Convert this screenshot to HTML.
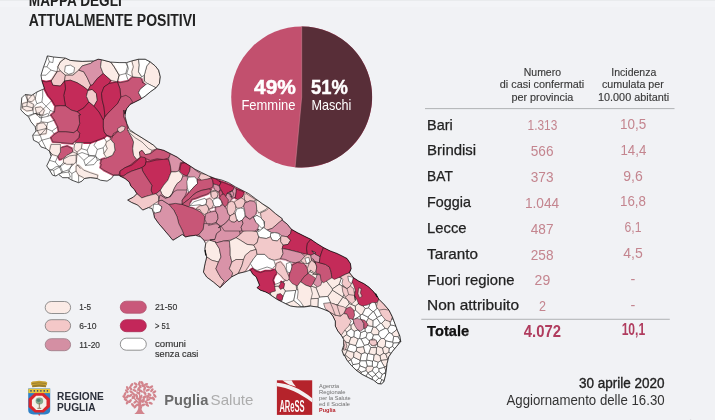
<!DOCTYPE html>
<html lang="it">
<head>
<meta charset="utf-8">
<title>Mappa degli attualmente positivi</title>
<style>
html,body{margin:0;padding:0;background:#f1f2f5;}
body{width:715px;height:420px;overflow:hidden;position:relative;font-family:"Liberation Sans",sans-serif;}
svg{position:absolute;left:0;top:0;display:block;}
text{font-family:"Liberation Sans",sans-serif;}
.b{font-weight:bold;}
.hd{font-size:10.5px;fill:#3a3a3a;text-anchor:middle;stroke:#3a3a3a;stroke-width:0.15px;}
.rl{font-size:14.8px;fill:#222;stroke:#222;stroke-width:0.25px;}
.num{font-size:14.4px;fill:#c4858f;text-anchor:middle;}
.lg{font-size:8.6px;fill:#333;stroke:#333;stroke-width:0.15px;}
</style>
</head>
<body>
<svg width="715" height="420" viewBox="0 0 715 420">
<rect x="0" y="0" width="715" height="420" fill="#f1f2f5"/>
<rect x="0" y="1" width="715" height="6" fill="#f3f4f7"/>
<rect x="0" y="0" width="715" height="1" fill="#e9ebed"/>

<!-- title -->
<text class="b" x="28.8" y="5.7" font-size="15.6" fill="#222" textLength="93" lengthAdjust="spacingAndGlyphs">MAPPA DEGLI</text>
<text class="b" x="28.8" y="25.6" font-size="15.6" fill="#222" textLength="167.2" lengthAdjust="spacingAndGlyphs">ATTUALMENTE POSITIVI</text>

<!-- map -->
<g id="map">
<clipPath id="oc"><polygon points="41.9,81.0 41.0,75.2 43.6,66.8 46.1,60.1 47.3,55.9 53.6,57.0 65.4,58.1 70.4,60.4 82.2,61.4 93.9,60.9 98.1,59.2 101.5,59.7 110.7,62.1 119.1,62.6 126.7,62.6 131.8,60.9 138.5,59.2 145.2,59.2 150.2,61.8 155.2,65.9 158.6,70.1 160.3,76.8 159.4,83.6 156.1,87.8 150.2,92.0 145.2,96.2 140.1,99.5 135.1,102.0 130.1,104.5 126.7,108.7 125.0,113.8 125.2,110.1 125.2,116.8 126.8,123.5 129.4,129.4 135.2,133.6 142.0,137.8 148.7,142.0 153.7,145.3 157.1,148.7 163.8,150.3 170.5,153.7 177.2,157.1 183.9,162.1 190.6,166.3 195.0,169.2 201.8,172.6 208.5,175.9 215.2,178.5 221.9,180.1 228.6,182.7 235.3,186.8 242.0,190.2 248.7,193.6 255.4,198.6 262.2,203.6 268.9,207.8 275.6,213.7 282.3,218.7 282.2,220.0 287.3,224.2 291.5,229.3 297.3,232.6 304.1,236.0 310.8,239.3 316.8,243.4 323.5,247.6 330.2,250.9 336.9,253.4 342.0,255.9 347.0,258.5 350.4,263.5 351.2,268.5 349.5,272.7 353.7,277.8 358.7,281.1 363.8,283.6 368.8,287.0 373.9,292.0 377.2,297.1 375.6,293.4 378.9,299.2 384.0,304.3 389.0,310.1 392.4,316.9 394.9,323.6 397.4,330.3 399.9,336.1 400.8,342.0 400.6,341.7 396.4,346.7 392.2,351.8 388.8,356.8 387.1,363.5 386.3,370.2 385.4,376.1 383.8,382.0 381.3,384.0 377.9,383.6 373.7,380.3 368.7,377.8 362.0,374.4 356.1,370.2 351.1,365.2 346.9,360.1 344.3,355.1 343.7,355.4 342.0,350.4 343.7,345.4 343.7,339.5 341.2,335.3 337.8,331.1 335.3,326.1 335.3,321.1 332.8,316.0 329.4,311.8 324.1,309.5 317.4,307.0 310.7,306.1 304.0,307.0 297.3,307.0 290.6,306.1 287.2,304.5 282.2,302.0 277.1,299.4 272.1,296.1 268.7,293.6 265.4,291.9 260.4,290.2 257.0,287.7 259.5,285.2 257.8,281.0 256.1,276.8 252.8,274.3 250.3,270.1 245.2,271.8 238.5,273.4 231.8,276.8 225.1,282.7 220.1,287.7 213.4,282.1 206.7,277.1 203.4,272.1 205.0,263.7 206.7,257.0 205.0,250.2 205.7,255.4 204.8,248.7 205.7,243.7 204.0,240.3 200.6,237.0 195.6,235.3 188.9,236.2 185.5,237.0 182.2,234.5 177.1,237.8 172.9,240.3 168.7,235.3 163.7,229.4 158.7,223.6 154.5,217.7 153.6,213.5 152.0,208.5 148.6,207.6 142.7,210.1 137.7,205.1 131.8,202.6 127.6,200.1 128.4,199.6 133.4,197.1 136.8,193.7 134.3,189.5 130.9,186.2 129.2,182.0 125.0,178.6 120.0,176.1 118.9,175.2 113.8,175.2 111.3,178.5 107.1,181.1 100.4,180.2 97.1,178.5 90.3,177.7 84.5,178.5 82.0,181.1 78.6,182.7 71.9,180.2 67.7,177.7 62.7,177.7 58.5,174.3 55.9,176.0 52.6,175.2 50.1,171.0 46.7,165.9 49.4,160.3 51.1,156.2 49.4,151.1 46.1,148.6 41.0,146.9 38.5,142.7 33.5,140.2 32.7,135.2 36.0,131.0 35.2,126.8 31.0,121.8 28.5,116.7 25.1,114.2 20.9,110.0 20.9,108.7 21.8,97.8 25.1,94.5 31.8,95.3 36.9,92.0 42.7,89.4 44.4,88.6"/></clipPath>
<polygon points="41.9,81.0 41.0,75.2 43.6,66.8 46.1,60.1 47.3,55.9 53.6,57.0 65.4,58.1 70.4,60.4 82.2,61.4 93.9,60.9 98.1,59.2 101.5,59.7 110.7,62.1 119.1,62.6 126.7,62.6 131.8,60.9 138.5,59.2 145.2,59.2 150.2,61.8 155.2,65.9 158.6,70.1 160.3,76.8 159.4,83.6 156.1,87.8 150.2,92.0 145.2,96.2 140.1,99.5 135.1,102.0 130.1,104.5 126.7,108.7 125.0,113.8 125.2,110.1 125.2,116.8 126.8,123.5 129.4,129.4 135.2,133.6 142.0,137.8 148.7,142.0 153.7,145.3 157.1,148.7 163.8,150.3 170.5,153.7 177.2,157.1 183.9,162.1 190.6,166.3 195.0,169.2 201.8,172.6 208.5,175.9 215.2,178.5 221.9,180.1 228.6,182.7 235.3,186.8 242.0,190.2 248.7,193.6 255.4,198.6 262.2,203.6 268.9,207.8 275.6,213.7 282.3,218.7 282.2,220.0 287.3,224.2 291.5,229.3 297.3,232.6 304.1,236.0 310.8,239.3 316.8,243.4 323.5,247.6 330.2,250.9 336.9,253.4 342.0,255.9 347.0,258.5 350.4,263.5 351.2,268.5 349.5,272.7 353.7,277.8 358.7,281.1 363.8,283.6 368.8,287.0 373.9,292.0 377.2,297.1 375.6,293.4 378.9,299.2 384.0,304.3 389.0,310.1 392.4,316.9 394.9,323.6 397.4,330.3 399.9,336.1 400.8,342.0 400.6,341.7 396.4,346.7 392.2,351.8 388.8,356.8 387.1,363.5 386.3,370.2 385.4,376.1 383.8,382.0 381.3,384.0 377.9,383.6 373.7,380.3 368.7,377.8 362.0,374.4 356.1,370.2 351.1,365.2 346.9,360.1 344.3,355.1 343.7,355.4 342.0,350.4 343.7,345.4 343.7,339.5 341.2,335.3 337.8,331.1 335.3,326.1 335.3,321.1 332.8,316.0 329.4,311.8 324.1,309.5 317.4,307.0 310.7,306.1 304.0,307.0 297.3,307.0 290.6,306.1 287.2,304.5 282.2,302.0 277.1,299.4 272.1,296.1 268.7,293.6 265.4,291.9 260.4,290.2 257.0,287.7 259.5,285.2 257.8,281.0 256.1,276.8 252.8,274.3 250.3,270.1 245.2,271.8 238.5,273.4 231.8,276.8 225.1,282.7 220.1,287.7 213.4,282.1 206.7,277.1 203.4,272.1 205.0,263.7 206.7,257.0 205.0,250.2 205.7,255.4 204.8,248.7 205.7,243.7 204.0,240.3 200.6,237.0 195.6,235.3 188.9,236.2 185.5,237.0 182.2,234.5 177.1,237.8 172.9,240.3 168.7,235.3 163.7,229.4 158.7,223.6 154.5,217.7 153.6,213.5 152.0,208.5 148.6,207.6 142.7,210.1 137.7,205.1 131.8,202.6 127.6,200.1 128.4,199.6 133.4,197.1 136.8,193.7 134.3,189.5 130.9,186.2 129.2,182.0 125.0,178.6 120.0,176.1 118.9,175.2 113.8,175.2 111.3,178.5 107.1,181.1 100.4,180.2 97.1,178.5 90.3,177.7 84.5,178.5 82.0,181.1 78.6,182.7 71.9,180.2 67.7,177.7 62.7,177.7 58.5,174.3 55.9,176.0 52.6,175.2 50.1,171.0 46.7,165.9 49.4,160.3 51.1,156.2 49.4,151.1 46.1,148.6 41.0,146.9 38.5,142.7 33.5,140.2 32.7,135.2 36.0,131.0 35.2,126.8 31.0,121.8 28.5,116.7 25.1,114.2 20.9,110.0 20.9,108.7 21.8,97.8 25.1,94.5 31.8,95.3 36.9,92.0 42.7,89.4 44.4,88.6" fill="#ffffff" stroke="none"/>
<g clip-path="url(#oc)" stroke="#1a1a1a" stroke-width="0.5" stroke-linejoin="round">
<g stroke-width="2.4">
<polygon points="65.4,58.1 70.4,60.4 82.2,61.4 93.9,60.9 90.6,63.4 82.2,65.9 78.8,70.1 72.9,75.2 65.4,75.2 60.4,71.0 57.8,66.8 60.4,61.8" fill="#fbebe6" stroke="#fbebe6"/>
<polygon points="65.4,65.9 70.4,65.1 74.6,67.6 73.8,72.7 68.7,74.3 64.5,71.8" fill="#ffffff" stroke="#ffffff"/>
<polygon points="57.0,71.8 60.4,71.0 65.4,75.2 64.5,81.0 60.4,86.1 52.8,85.2 51.1,81.0" fill="#f2c9ca" stroke="#f2c9ca"/>
<polygon points="65.4,75.2 72.9,75.2 78.8,70.1 83.8,71.8 87.2,77.7 90.6,85.2 88.0,90.3 83.8,86.9 77.1,82.7 70.4,80.2 64.5,81.0" fill="#f2c9ca" stroke="#f2c9ca"/>
<polygon points="82.2,65.9 90.6,63.4 93.9,60.9 98.1,59.2 101.5,59.7 100.6,66.8 103.2,73.5 97.3,78.5 92.2,85.2 90.6,85.2 87.2,77.7 83.8,71.8 78.8,70.1" fill="#d993a8" stroke="#d993a8"/>
<polygon points="101.5,59.7 110.7,62.1 114.1,66.8 119.1,75.2 117.4,81.9 110.7,80.2 103.2,73.5 100.6,66.8" fill="#fbebe6" stroke="#fbebe6"/>
<polygon points="117.4,81.9 120.0,82.7 128.4,81.0 132.6,76.8 141.0,77.7 142.7,82.7 146.0,84.4 140.1,89.4 138.5,92.8 141.8,98.7 135.1,102.0 130.1,104.5 126.7,108.7 125.0,113.8 123.5,110.1 123.5,116.8 126.8,123.5 127.7,130.2 131.9,137.8 133.6,142.0 132.7,148.7 133.6,155.4 136.9,159.6 130.1,165.2 125.0,167.7 120.0,171.1 118.9,175.2 113.8,175.2 108.8,172.7 103.8,170.1 100.4,167.6 101.3,164.3 100.6,163.7 101.5,159.5 106.5,157.8 112.4,155.3 114.9,150.3 114.1,143.6 110.7,139.4 110.7,136.8 106.5,135.2 104.0,131.8 103.2,126.8 103.2,120.1 104.8,116.7 107.3,113.8 110.7,110.4 117.4,103.7 120.8,97.0 119.9,88.6" fill="#c85677" stroke="#c85677"/>
<polygon points="117.6,128.5 121.8,126.0 125.2,126.8 124.3,130.2 120.1,132.7 117.6,131.1" fill="#f2c9ca" stroke="#f2c9ca"/>
<polygon points="64.5,81.0 70.4,80.2 77.1,82.7 83.8,86.9 88.0,90.3 86.4,96.2 88.9,102.0 83.8,107.9 77.1,111.8 71.3,110.1 65.4,105.9 63.7,95.3 65.4,88.6" fill="#c42b59" stroke="#c42b59"/>
<polygon points="41.9,81.0 46.1,81.9 51.1,81.0 52.8,85.2 60.4,86.1 64.5,81.0 65.4,88.6 63.7,95.3 65.4,105.9 60.4,105.7 55.3,106.2 52.0,100.3 47.8,95.3 44.4,88.6" fill="#c42b59" stroke="#c42b59"/>
<polygon points="88.0,90.3 92.2,89.4 96.4,93.6 97.3,100.3 93.9,106.2 88.9,102.0 86.4,96.2" fill="#f2c9ca" stroke="#f2c9ca"/>
<polygon points="92.2,85.2 97.3,78.5 103.2,73.5 110.7,80.2 109.0,83.6 104.0,86.9 101.5,93.6 102.3,100.3 104.0,107.1 104.8,114.6 104.8,116.7 103.2,120.1 99.0,112.1 93.9,106.2 97.3,100.3 96.4,93.6 92.2,89.4 88.0,90.3 90.6,85.2" fill="#c42b59" stroke="#c42b59"/>
<polygon points="104.0,86.9 109.0,83.6 117.4,81.9 119.9,88.6 120.8,97.0 117.4,103.7 110.7,110.4 107.3,113.8 104.8,116.7 104.8,114.6 104.0,107.1 102.3,100.3 101.5,93.6" fill="#c42b59" stroke="#c42b59"/>
<polygon points="77.1,111.8 83.8,107.9 88.9,102.0 93.9,106.2 99.0,112.1 103.2,120.1 103.2,126.8 104.0,131.8 106.5,135.2 104.0,137.7 97.3,140.2 90.6,142.7 82.2,142.7 76.3,142.7 74.6,141.9 78.8,137.7 79.7,133.5 77.1,130.1 79.7,123.4 78.8,115.0 80.5,114.6" fill="#c42b59" stroke="#c42b59"/>
<polygon points="55.3,106.2 60.4,105.7 65.4,105.9 71.3,110.1 77.1,111.8 80.5,114.6 78.8,115.0 79.7,123.4 77.1,130.1 73.8,132.7 65.4,131.8 58.7,131.8 57.8,126.8 54.5,120.1 51.1,115.0 54.5,112.1" fill="#c85677" stroke="#c85677"/>
<polygon points="58.7,131.8 65.4,131.8 73.8,132.7 77.1,130.1 79.7,133.5 78.8,137.7 74.6,141.9 72.1,143.6 62.0,142.7 52.8,141.9 51.1,137.7 54.5,134.3" fill="#c85677" stroke="#c85677"/>
<polygon points="60.4,147.8 67.1,146.1 72.1,148.6 72.9,152.0 67.1,155.3 62.9,158.7 59.5,159.5 57.8,156.2 60.4,152.0" fill="#c85677" stroke="#c85677"/>
<polygon points="51.1,144.4 60.4,144.4 60.4,152.0 57.8,156.2 52.0,154.5 49.4,151.1" fill="#fbebe6" stroke="#fbebe6"/>
<polygon points="63.7,158.7 67.1,155.3 72.9,152.0 77.1,153.6 76.3,160.3 72.1,163.7 65.4,162.9" fill="#fbebe6" stroke="#fbebe6"/>
<polygon points="76.1,165.9 78.6,165.1 83.6,170.1 90.3,172.7 97.9,175.2 97.1,178.5 90.3,177.7 84.5,178.5 82.0,176.8 78.6,175.2 76.1,171.0" fill="#fbebe6" stroke="#fbebe6"/>
<polygon points="63.5,159.2 69.4,155.9 76.1,155.0 76.1,161.8 73.6,164.3 66.8,164.3 63.5,162.6" fill="#fbebe6" stroke="#fbebe6"/>
<polygon points="76.3,142.7 82.2,142.7 81.3,148.6 77.1,152.0 73.8,149.4 74.6,144.4" fill="#fbebe6" stroke="#fbebe6"/>
<polygon points="106.5,141.9 110.7,139.4 114.1,143.6 114.9,150.3 112.4,155.3 106.5,157.8 104.0,153.6 107.3,148.6 105.7,144.4" fill="#fbebe6" stroke="#fbebe6"/>
<polygon points="22.6,103.5 28.5,101.8 33.5,104.3 32.7,110.2 26.8,111.0 22.6,108.5" fill="#fbebe6" stroke="#fbebe6"/>
<polygon points="35.2,107.7 41.0,106.8 44.4,110.2 42.7,114.9 36.9,114.4" fill="#fbebe6" stroke="#fbebe6"/>
<polygon points="36.9,123.6 43.6,122.8 46.9,127.0 46.1,133.7 39.4,134.5 36.9,129.5" fill="#fbebe6" stroke="#fbebe6"/>
<polygon points="26.8,95.1 32.7,93.4 35.2,98.4 31.8,101.8 27.6,100.9" fill="#fbebe6" stroke="#fbebe6"/>
<polygon points="131.8,60.9 138.5,59.2 139.3,65.1 138.5,71.8 141.8,76.8 141.0,77.7 132.6,76.8 131.8,71.8 133.4,66.8" fill="#fbebe6" stroke="#fbebe6"/>
<polygon points="150.2,61.8 155.2,65.9 158.6,70.1 160.3,76.8 159.4,83.6 156.1,87.8 152.7,86.1 147.7,83.6 144.3,81.0 144.3,75.2 145.2,71.8 146.8,65.9" fill="#fbebe6" stroke="#fbebe6"/>
<polygon points="146.0,84.4 147.7,83.6 152.7,86.1 156.1,87.8 150.2,92.0 145.2,96.2 141.8,98.7 138.5,92.8 140.1,89.4" fill="#ffffff" stroke="#ffffff"/>
<polygon points="138.5,59.2 145.2,59.2 150.2,61.8 146.8,65.9 145.2,71.8 144.3,75.2 141.8,76.8 138.5,71.8 139.3,65.1" fill="#ffffff" stroke="#ffffff"/>
<polygon points="127.7,130.2 135.2,133.6 142.0,137.8 148.7,142.0 153.7,145.3 157.1,148.7 152.0,150.3 150.3,153.7 145.3,154.6 142.0,150.3 139.4,152.0 140.3,157.1 136.9,159.6 133.6,155.4 132.7,148.7 133.6,142.0 131.9,137.8" fill="#fbebe6" stroke="#fbebe6"/>
<polygon points="145.3,154.6 150.3,153.7 157.1,148.7 163.8,150.3 170.5,153.7 168.8,157.9 163.8,159.6 157.1,158.7 150.3,160.4 146.2,158.7 142.0,157.9 140.3,157.1 139.4,152.0 142.0,150.3" fill="#c85677" stroke="#c85677"/>
<polygon points="120.0,171.1 125.0,167.7 131.8,165.2 136.8,161.0 141.0,156.8 145.2,157.6 146.0,161.8 145.2,165.2 141.8,167.7 136.8,169.4 131.8,171.1 126.7,173.6 123.4,176.1 120.0,176.1" fill="#c42b59" stroke="#c42b59"/>
<polygon points="145.2,165.2 146.0,161.8 149.4,161.8 156.1,160.1 163.6,159.3 168.7,159.3 170.3,165.2 171.2,171.9 169.5,176.1 167.8,180.3 163.6,185.3 160.3,190.3 156.1,193.7 152.7,194.6 151.1,190.3 151.9,185.3 148.5,180.3 145.2,175.2 142.7,171.1 141.8,167.7" fill="#c42b59" stroke="#c42b59"/>
<polygon points="120.0,176.1 123.4,176.1 126.7,173.6 131.8,171.1 136.8,169.4 141.8,167.7 142.7,171.1 145.2,175.2 148.5,180.3 151.9,185.3 151.1,190.3 152.7,194.6 146.8,196.2 141.8,197.9 136.8,193.7 134.3,189.5 130.9,186.2 129.2,182.0 125.0,178.6" fill="#c85677" stroke="#c85677"/>
<polygon points="128.4,199.6 133.4,197.1 136.8,193.7 141.8,197.9 146.8,196.2 152.7,194.6 156.1,193.7 158.6,196.2 159.4,200.4 159.5,196.7 158.7,200.9 153.6,204.3 148.6,207.6 142.7,210.1 137.7,205.1 131.8,202.6 127.6,200.1" fill="#f2c9ca" stroke="#f2c9ca"/>
<polygon points="153.6,204.3 158.7,204.3 162.0,206.8 160.3,211.8 155.3,213.5 152.8,210.1" fill="#ffffff" stroke="#ffffff"/>
<polygon points="168.8,157.9 170.5,153.7 177.2,157.1 183.9,162.1 180.4,162.7 179.6,166.8 178.7,171.1 175.4,171.9 171.2,171.9 170.3,165.2 168.7,159.3" fill="#d993a8" stroke="#d993a8"/>
<polygon points="181.3,163.5 186.3,162.7 190.5,166.0 189.7,171.1 187.1,176.1 182.9,174.4 179.6,171.9 180.4,166.8" fill="#c42b59" stroke="#c42b59"/>
<polygon points="169.5,176.1 171.2,171.9 175.4,171.9 178.7,171.1 181.3,173.6 182.9,176.1 181.3,180.3 177.1,183.6 174.6,187.8 172.0,193.7 168.7,197.9 165.3,197.1 162.0,194.6 160.3,190.3 163.6,185.3 167.8,180.3" fill="#fbebe6" stroke="#fbebe6"/>
<polygon points="190.5,166.0 195.5,170.2 200.6,173.6 198.9,177.8 195.5,180.3 191.3,177.8 187.1,176.1 189.7,171.1" fill="#d993a8" stroke="#d993a8"/>
<polygon points="200.6,173.6 207.3,174.4 211.5,177.8 207.3,179.4 202.2,181.1 198.9,177.8" fill="#f2c9ca" stroke="#f2c9ca"/>
<polygon points="182.9,176.1 187.1,176.1 188.0,182.0 187.1,188.7 185.4,193.7 182.1,198.7 177.1,202.1 172.0,203.8 173.8,191.7 170.4,196.7 165.4,198.4 160.3,195.0 159.4,200.4 158.6,196.2 156.1,193.7 160.3,190.3 162.0,194.6 165.3,197.1 168.7,197.9 172.0,193.7 174.6,187.8 177.1,183.6 181.3,180.3" fill="#d993a8" stroke="#d993a8"/>
<polygon points="260.5,212.9 266.4,210.3 268.9,207.8 275.6,213.7 282.3,218.7 282.2,220.0 278.9,222.6 272.2,228.4 267.1,230.1 263.8,227.6 264.6,221.7 261.3,218.7" fill="#f2c9ca" stroke="#f2c9ca"/>
<polygon points="253.8,217.1 257.1,215.4 261.3,218.7 264.6,221.7 263.8,227.6 260.4,230.1 257.9,229.3 253.7,223.4 257.1,218.4" fill="#ffffff" stroke="#ffffff"/>
<polygon points="168.7,204.3 175.4,203.4 182.2,204.3 188.9,206.8 195.6,209.3 201.5,212.7 204.8,216.8 204.0,223.6 203.2,229.4 198.9,234.5 195.6,235.3 188.9,236.2 185.5,237.0 183.8,234.5 182.2,230.3 178.8,223.6 177.1,216.8 173.8,210.1" fill="#c85677" stroke="#c85677"/>
<polygon points="158.7,200.9 162.0,200.1 168.7,204.3 173.8,210.1 177.1,216.8 178.8,223.6 182.2,230.3 183.8,234.5 177.1,237.8 172.9,240.3 168.7,235.3 163.7,229.4 158.7,223.6 154.5,217.7 153.6,213.5 160.3,211.8 162.0,206.8 158.7,204.3" fill="#d993a8" stroke="#d993a8"/>
<polygon points="160.3,195.0 165.4,198.4 170.4,196.7 173.8,191.7 177.1,190.0 187.2,190.0 185.5,195.0 182.2,200.1 182.2,204.3 175.4,203.4 168.7,204.3 162.0,200.1 158.7,200.9 159.5,196.7" fill="#d993a8" stroke="#d993a8"/>
<polygon points="203.2,229.4 204.0,223.6 210.7,223.6 215.7,221.9 219.9,226.1 220.8,230.3 216.6,233.6 214.9,239.5 209.0,240.3 204.0,240.3 200.6,237.0 198.9,234.5" fill="#d993a8" stroke="#d993a8"/>
<polygon points="205.7,243.7 209.0,240.3 214.9,239.5 210.1,240.2 215.1,241.8 219.3,248.6 221.0,257.0 218.5,262.0 211.8,260.3 206.7,257.0 205.0,250.2 205.7,255.4 204.8,248.7" fill="#fbebe6" stroke="#fbebe6"/>
<polygon points="218.5,227.6 225.2,224.2 233.6,224.2 239.4,228.4 240.3,234.3 236.1,237.7 230.2,240.2 223.5,241.0 216.8,242.7 215.1,241.8 210.1,240.2 214.9,239.5 216.6,233.6 220.8,230.3 219.9,226.1" fill="#d993a8" stroke="#d993a8"/>
<polygon points="216.6,211.8 208.5,225.4 215.2,223.8 219.4,223.8 226.1,221.3 233.6,224.2 225.2,224.2 218.5,227.6 219.9,226.1 215.7,221.9 218.2,216.8" fill="#d993a8" stroke="#d993a8"/>
<polygon points="226.1,221.3 227.8,218.7 232.8,217.9 236.2,219.6 240.3,222.1 248.7,219.2 243.6,223.4 239.4,228.4 233.6,224.2" fill="#d993a8" stroke="#d993a8"/>
<polygon points="239.4,228.4 243.6,223.4 248.7,219.2 240.3,222.1 245.4,222.1 253.7,223.4 257.9,229.3 257.1,231.8 250.3,230.1 243.6,230.9 240.3,234.3" fill="#d993a8" stroke="#d993a8"/>
<polygon points="245.4,217.1 248.7,220.4 253.8,217.1 257.1,218.4 253.7,223.4 245.4,222.1 244.6,218.7" fill="#d993a8" stroke="#d993a8"/>
<polygon points="240.3,234.3 243.6,230.9 250.3,230.1 257.1,231.8 258.7,236.8 257.1,242.7 253.7,245.2 247.0,244.4 240.3,240.2 236.1,237.7" fill="#f2c9ca" stroke="#f2c9ca"/>
<polygon points="206.7,257.0 211.8,260.3 218.5,262.0 215.9,268.7 218.5,273.7 221.0,277.9 224.3,281.3 220.1,287.7 213.4,282.1 206.7,277.1 203.4,272.1 205.0,263.7" fill="#f2c9ca" stroke="#f2c9ca"/>
<polygon points="216.8,242.7 223.5,241.0 229.4,241.0 230.2,248.6 230.2,255.3 231.9,262.0 229.4,268.7 232.7,272.9 231.9,276.3 231.8,276.8 225.1,282.7 220.1,287.7 224.3,281.3 221.0,277.9 218.5,273.7 215.9,268.7 218.5,262.0 221.0,257.0 219.3,248.6 215.1,241.8" fill="#d993a8" stroke="#d993a8"/>
<polygon points="229.4,241.0 236.1,237.7 240.3,240.2 247.0,244.4 253.7,245.2 256.2,249.4 250.3,251.1 245.3,255.3 243.6,259.5 236.1,259.5 231.9,262.0 230.2,255.3 230.2,248.6" fill="#fbebe6" stroke="#fbebe6"/>
<polygon points="231.9,262.0 236.1,259.5 243.6,259.5 242.0,265.4 238.6,272.9 238.5,273.4 231.8,276.8 231.9,276.3 232.7,272.9 229.4,268.7" fill="#f2c9ca" stroke="#f2c9ca"/>
<polygon points="243.6,259.5 245.3,255.3 250.3,251.1 256.2,249.4 257.1,254.4 253.7,258.6 250.3,263.7 245.3,271.2 245.2,271.8 238.5,273.4 238.6,272.9 242.0,265.4" fill="#f2c9ca" stroke="#f2c9ca"/>
<polygon points="272.2,228.4 278.9,222.6 282.2,220.0 287.3,224.2 291.5,229.3 290.6,233.5 287.3,236.8 282.2,236.0 278.9,233.5 274.7,232.6 271.3,232.6 267.1,230.1" fill="#d993a8" stroke="#d993a8"/>
<polygon points="258.7,231.8 260.4,230.1 263.8,227.6 267.1,230.1 271.3,232.6 270.5,236.8 266.3,238.5 260.4,237.7 258.7,236.8 257.1,231.8 257.9,229.3" fill="#ffffff" stroke="#ffffff"/>
<polygon points="270.5,233.5 274.7,232.6 278.9,233.5 280.6,237.7 277.2,241.0 272.2,240.2 270.5,236.8" fill="#ffffff" stroke="#ffffff"/>
<polygon points="280.6,237.7 282.2,236.0 287.3,236.8 290.6,240.2 288.1,244.4 283.1,245.2 280.6,241.8" fill="#f2c9ca" stroke="#f2c9ca"/>
<polygon points="257.1,242.7 258.7,236.8 260.4,237.7 266.3,238.5 270.5,236.8 272.2,240.2 277.2,241.0 280.6,237.7 280.6,241.8 283.1,245.2 282.2,248.6 283.1,253.6 280.6,258.6 273.9,260.3 268.8,258.6 264.6,254.4 257.1,254.4 256.2,249.4 253.7,245.2" fill="#f2c9ca" stroke="#f2c9ca"/>
<polygon points="291.5,229.3 297.3,232.6 304.1,236.0 310.8,239.3 307.4,243.5 306.6,248.6 307.4,254.4 300.7,252.8 294.0,251.1 287.3,249.4 282.2,248.6 283.1,245.2 288.1,244.4 290.6,240.2 287.3,236.8 290.6,233.5" fill="#c42b59" stroke="#c42b59"/>
<polygon points="310.8,239.3 316.8,243.4 323.5,247.6 321.8,251.8 320.1,256.8 315.1,254.3 311.8,250.9 315.8,252.8 310.8,255.3 307.4,254.4 306.6,248.6 307.4,243.5" fill="#c42b59" stroke="#c42b59"/>
<polygon points="283.1,253.6 282.2,248.6 287.3,249.4 294.0,251.1 300.7,252.8 304.9,256.1 300.7,261.1 295.7,262.8 290.6,262.0 285.6,259.5 280.6,258.6" fill="#d993a8" stroke="#d993a8"/>
<polygon points="257.1,254.4 264.6,254.4 268.8,258.6 273.9,260.3 275.5,265.4 272.2,268.7 267.1,267.0 262.1,268.7 257.1,270.4 253.7,268.7 250.3,263.7 253.7,258.6" fill="#ffffff" stroke="#ffffff"/>
<polygon points="250.3,270.1 252.8,268.4 255.3,270.9 260.4,272.6 265.4,270.9 270.4,270.9 275.4,269.2 277.1,272.6 274.6,275.9 272.9,280.1 274.6,285.2 275.4,291.1 272.1,291.9 268.7,293.6 265.4,291.9 260.4,290.2 257.0,287.7 259.5,285.2 257.8,281.0 256.1,276.8 252.8,274.3" fill="#c42b59" stroke="#c42b59"/>
<polygon points="281.3,281.8 284.7,283.5 283.9,287.7 280.5,289.4 278.8,286.9" fill="#c42b59" stroke="#c42b59"/>
<polygon points="277.1,294.4 280.5,293.6 283.0,296.1 282.2,300.3 278.8,300.3 276.3,297.8" fill="#c42b59" stroke="#c42b59"/>
<polygon points="276.3,263.4 280.5,261.7 284.7,266.7 287.2,272.6 289.7,278.5 287.2,281.0 283.9,279.3 280.5,275.1 277.1,272.6 275.4,269.2" fill="#f2c9ca" stroke="#f2c9ca"/>
<polygon points="286.4,263.7 290.6,262.0 292.3,267.0 290.6,272.9 287.3,272.1 286.4,268.7" fill="#ffffff" stroke="#ffffff"/>
<polygon points="292.2,265.0 297.3,262.5 304.0,263.4 307.3,268.4 308.2,273.4 304.0,276.8 300.6,281.8 297.3,286.0 292.2,283.5 288.9,279.3 289.7,273.4 291.4,269.2" fill="#c85677" stroke="#c85677"/>
<polygon points="300.6,281.8 304.0,276.8 308.2,273.4 312.4,275.9 315.7,278.5 313.2,283.5 310.7,286.9 305.7,285.2" fill="#c85677" stroke="#c85677"/>
<polygon points="315.7,278.5 317.4,274.3 320.8,275.1 322.4,280.1 320.8,285.2 317.4,286.9 313.2,283.5" fill="#d993a8" stroke="#d993a8"/>
<polygon points="300.7,261.1 304.9,256.1 307.4,254.4 310.8,255.3 311.6,260.3 309.1,263.7 304.9,263.7" fill="#f2c9ca" stroke="#f2c9ca"/>
<polygon points="304.9,258.3 308.8,257.3 309.9,261.7 306.7,264.0" fill="#ffffff" stroke="#ffffff"/>
<polygon points="310.8,255.3 315.8,252.8 311.8,250.9 315.1,254.3 320.1,256.8 319.3,262.7 315.1,261.8 312.6,258.5 315.8,263.7 311.6,260.3" fill="#d993a8" stroke="#d993a8"/>
<polygon points="309.1,263.7 311.6,260.3 315.8,263.7 315.1,261.8 316.8,266.9 315.9,271.9 312.6,274.4 317.4,274.3 314.1,272.6 310.7,270.1 308.2,273.4 307.3,268.4" fill="#f2c9ca" stroke="#f2c9ca"/>
<polygon points="319.3,262.7 325.2,264.3 329.4,266.9 331.1,271.9 331.9,277.8 327.7,280.3 323.5,282.8 321.0,280.3 320.1,274.4 316.8,273.6 315.9,271.9 316.8,266.9 315.1,261.8" fill="#c85677" stroke="#c85677"/>
<polygon points="323.5,247.6 330.2,250.9 336.9,253.4 342.0,255.9 347.0,258.5 350.4,263.5 351.2,268.5 349.5,272.7 345.3,274.4 340.3,276.9 334.4,279.4 331.9,277.8 331.1,271.9 329.4,266.9 325.2,264.3 319.3,262.7 320.1,256.8 321.8,251.8" fill="#c42b59" stroke="#c42b59"/>
<polygon points="297.3,286.0 300.6,281.8 305.7,285.2 310.7,286.9 312.4,293.6 310.7,300.3 310.7,305.3 304.0,307.0 300.6,302.0 297.3,298.6 298.1,291.9" fill="#fbebe6" stroke="#fbebe6"/>
<polygon points="188.3,177.2 194.7,176.8 197.1,179.7 197.6,183.6 194.7,186.1 190.8,190.4 188.8,192.9 187.3,187.5 186.8,181.6" fill="#ffffff" stroke="#ffffff"/>
<polygon points="200.6,180.2 209.4,178.7 211.3,177.7 212.8,180.7 213.3,184.1 212.3,187.5 208.4,189.0 201.5,190.4 196.6,192.4 192.7,195.3 188.8,199.3 184.9,202.2 182.2,204.3 182.2,200.1 182.9,199.3 186.8,195.3 190.8,190.4 194.7,186.1 197.6,183.6 197.1,179.7" fill="#c85677" stroke="#c85677"/>
<polygon points="192.7,195.3 196.6,192.4 201.5,190.4 208.4,189.0 211.3,189.5 210.3,192.4 206.4,194.4 200.6,196.3 195.7,198.3 191.8,199.3 189.8,203.2 189.7,205.9 188.9,206.8 182.2,204.3 184.9,202.2 188.8,199.3" fill="#c85677" stroke="#c85677"/>
<polygon points="211.3,177.7 215.2,178.7 219.2,181.2 221.1,182.6 219.2,186.1 216.2,184.6 213.3,184.1 212.8,180.7" fill="#c42b59" stroke="#c42b59"/>
<polygon points="219.2,181.2 225.0,183.1 230.9,185.6 234.3,187.5 232.9,190.4 229.9,191.9 227.0,193.4 226.0,196.3 224.6,197.8 223.1,194.4 221.6,190.9 219.2,186.1 221.1,182.6" fill="#c42b59" stroke="#c42b59"/>
<polygon points="213.3,184.1 216.2,184.6 219.2,186.1 220.1,190.0 218.2,191.9 215.2,190.4 213.8,187.5" fill="#d993a8" stroke="#d993a8"/>
<polygon points="210.3,191.4 214.3,190.4 215.2,190.4 218.2,191.9 217.7,193.4 217.2,197.3 214.3,198.3 211.3,195.3" fill="#f2c9ca" stroke="#f2c9ca"/>
<polygon points="219.2,192.4 220.1,190.0 221.6,190.9 223.1,194.4 222.6,198.3 220.6,197.3 219.2,195.3" fill="#c85677" stroke="#c85677"/>
<polygon points="227.0,193.4 229.9,191.9 232.9,190.4 234.3,187.5 236.3,189.0 236.3,191.4 235.8,194.4 235.3,197.3 231.9,198.3 230.9,194.4" fill="#d993a8" stroke="#d993a8"/>
<polygon points="236.3,191.4 236.3,189.0 238.7,190.0 242.7,191.4 244.1,193.4 242.7,196.3 239.7,199.3 237.3,199.8 235.3,197.3 235.8,194.4" fill="#c42b59" stroke="#c42b59"/>
<polygon points="224.6,197.8 226.0,196.3 227.0,193.4 230.9,194.4 231.9,198.3 229.9,202.2 226.0,203.2 224.1,200.2" fill="#d993a8" stroke="#d993a8"/>
<polygon points="210.8,192.0 215.7,191.0 218.1,193.9 217.1,197.3 213.7,198.8 211.3,196.8" fill="#f2c9ca" stroke="#f2c9ca"/>
<polygon points="200.0,199.8 204.9,198.3 206.8,200.8 205.9,204.7 202.0,205.7 200.0,204.7 189.7,205.9 193.9,201.8" fill="#ffffff" stroke="#ffffff"/>
<polygon points="205.9,199.8 209.8,198.3 212.7,200.8 213.7,204.7 211.8,208.1 208.8,209.1 207.3,205.7 205.9,204.7 206.8,200.8" fill="#f2c9ca" stroke="#f2c9ca"/>
<polygon points="214.7,198.8 218.1,197.8 221.1,200.3 222.0,203.7 219.6,206.6 215.7,207.1 213.7,204.7 212.7,200.8" fill="#ffffff" stroke="#ffffff"/>
<polygon points="221.1,194.9 224.0,193.9 225.9,196.8 228.4,199.8 227.9,203.7 225.0,207.1 223.0,204.7 222.0,201.8 221.1,200.3 219.6,197.8" fill="#c85677" stroke="#c85677"/>
<polygon points="228.4,202.7 231.3,201.3 234.3,202.2 235.7,205.7 235.7,209.6 233.3,214.0 229.9,215.9 227.9,213.5 226.9,209.6 227.4,205.7" fill="#f2c9ca" stroke="#f2c9ca"/>
<polygon points="235.7,200.8 241.1,197.8 244.6,199.8 245.0,202.7 243.6,206.2 240.6,208.1 236.7,208.1 235.7,205.7 234.3,202.2" fill="#f2c9ca" stroke="#f2c9ca"/>
<polygon points="244.1,195.4 246.0,193.4 251.9,197.3 255.8,199.8 253.8,201.3 249.9,200.8 247.0,202.2 244.6,199.8" fill="#f2c9ca" stroke="#f2c9ca"/>
<polygon points="247.0,202.2 249.9,200.8 253.8,201.3 256.3,203.7 256.8,209.6 255.8,214.5 252.9,216.9 249.9,219.4 247.0,217.4 245.0,214.5 244.6,209.6 243.6,206.2 245.0,202.7" fill="#d993a8" stroke="#d993a8"/>
<polygon points="236.7,209.1 240.6,208.1 243.6,208.6 244.6,212.5 245.0,216.4 242.1,220.3 238.7,221.8 236.2,218.4 235.2,213.5" fill="#ffffff" stroke="#ffffff"/>
<polygon points="229.9,215.9 233.3,214.0 235.2,213.5 236.2,218.4 237.2,220.3 234.3,222.3 231.3,221.8 228.9,219.4" fill="#f2c9ca" stroke="#f2c9ca"/>
<polygon points="255.8,199.8 258.7,200.8 263.6,204.7 267.6,207.6 265.6,209.6 262.7,211.1 258.7,213.0 256.8,209.6 256.3,203.7" fill="#fbebe6" stroke="#fbebe6"/>
<polygon points="253.4,217.4 256.8,215.4 260.7,217.4 263.6,221.3 264.6,226.2 261.7,228.2 258.7,225.2 255.8,222.3" fill="#ffffff" stroke="#ffffff"/>
<polygon points="205.9,213.5 210.8,212.0 215.7,211.1 217.6,214.5 218.1,218.4 216.2,222.3 211.8,223.8 206.8,223.8 204.9,219.4" fill="#d993a8" stroke="#d993a8"/>
<polygon points="215.7,207.1 219.6,206.6 223.0,204.7 225.0,207.1 226.9,209.6 227.9,213.5 229.9,215.9 228.9,219.4 225.4,223.3 221.1,226.2 218.1,224.3 216.2,222.3 218.1,218.4 217.6,214.5 215.7,211.1" fill="#d993a8" stroke="#d993a8"/>
<polygon points="200.0,205.7 202.0,205.7 205.9,204.7 207.3,205.7 208.8,209.1 207.3,213.0 204.4,214.5 201.5,212.5 200.0,209.6 197.3,209.3 195.6,209.3" fill="#f2c9ca" stroke="#f2c9ca"/>
<polygon points="221.1,226.2 225.4,223.3 228.9,219.4 231.3,221.8 234.3,222.3 237.2,220.3 238.7,221.8 242.1,220.3 243.1,223.3 241.1,227.2 242.1,231.0 224.5,231.0" fill="#d993a8" stroke="#d993a8"/>
<polygon points="242.1,220.3 245.0,216.4 247.0,217.4 249.9,219.4 252.9,216.9 253.4,217.4 255.8,222.3 258.7,225.2 257.8,229.2 254.8,231.0 242.1,231.0 241.1,227.2 243.1,223.3" fill="#d993a8" stroke="#d993a8"/>
<polygon points="340.3,276.9 345.3,274.4 349.5,272.7 353.7,277.8 352.0,282.0 350.4,286.1 347.0,288.7 343.6,286.1 342.0,283.6 342.8,279.4" fill="#f2c9ca" stroke="#f2c9ca"/>
<polygon points="347.8,276.1 352.9,277.3 353.4,281.1 351.2,283.6 348.7,281.1" fill="#ffffff" stroke="#ffffff"/>
<polygon points="342.0,286.1 347.0,288.7 350.4,286.1 353.7,288.7 354.6,295.4 355.4,300.4 352.0,303.8 348.7,301.3 345.3,297.1 342.8,292.0" fill="#f2c9ca" stroke="#f2c9ca"/>
<polygon points="353.7,277.8 358.7,281.1 363.8,283.6 368.8,287.0 373.9,292.0 377.2,297.1 375.6,293.4 378.9,299.2 377.3,302.6 372.2,302.6 367.2,305.1 362.2,305.9 358.8,304.3 357.1,300.1 354.6,295.9 355.4,300.4 354.6,295.4 355.4,290.4 353.7,285.3 352.0,282.0" fill="#c42b59" stroke="#c42b59"/>
<polygon points="358.7,287.8 361.3,288.7 360.4,292.9 362.1,296.2 359.6,297.9 357.9,293.7" fill="#f2c9ca" stroke="#f2c9ca"/>
<polygon points="377.3,302.6 378.9,299.2 384.0,304.3 389.0,310.1 392.4,316.9 390.7,321.9 385.7,320.2 381.5,315.2 378.9,310.1 376.4,306.8" fill="#f2c9ca" stroke="#f2c9ca"/>
<polygon points="346.2,308.5 350.4,306.8 353.8,310.1 354.6,315.2 352.9,319.4 348.7,318.5 347.1,314.3 343.7,313.5" fill="#c85677" stroke="#c85677"/>
<polygon points="352.9,319.4 357.1,318.5 361.3,319.4 363.9,323.6 363.9,328.6 360.5,331.1 357.1,329.4 354.6,325.2" fill="#d993a8" stroke="#d993a8"/>
<polygon points="361.3,319.4 364.7,320.2 368.0,324.4 366.4,327.8 363.9,328.6 363.9,323.6" fill="#c85677" stroke="#c85677"/>
<polygon points="329.4,311.8 335.3,315.2 340.4,316.0 343.7,313.5 347.1,314.3 348.7,318.5 351.3,321.1 348.7,326.1 345.4,329.4 341.2,335.3 337.8,331.1 335.3,326.1 335.3,321.1 332.8,316.0" fill="#f2c9ca" stroke="#f2c9ca"/>
<polygon points="323.6,303.4 330.3,302.6 337.0,305.1 343.7,306.8 346.2,308.5 343.7,313.5 340.4,316.0 335.3,315.2 329.4,311.8 325.2,308.5" fill="#f2c9ca" stroke="#f2c9ca"/>
<polygon points="369.7,340.4 373.9,338.7 377.3,342.0 375.6,346.2 371.4,345.4" fill="#f2c9ca" stroke="#f2c9ca"/>
<polygon points="341.8,340.0 345.2,340.8 346.9,345.9 345.2,350.1 343.5,350.1 344.3,345.0" fill="#f2c9ca" stroke="#f2c9ca"/>
<polygon points="369.5,340.0 376.2,340.0 377.1,344.2 372.9,345.9 369.5,343.4" fill="#f2c9ca" stroke="#f2c9ca"/>
</g>
<polygon points="309.7,271.6 309.9,270.6 302.3,274.0 302.9,274.4 307.7,273.6" fill="#fbebe6"/>
<polygon points="332.4,290.1 327.8,296.4 330.9,303.4 337.6,305.0 343.0,297.2 342.8,296.8" fill="#fbebe6"/>
<polygon points="343.0,297.2 337.6,305.0 339.8,308.8 345.2,308.5 349.3,303.7 347.7,299.4" fill="#fbebe6"/>
<polygon points="347.7,299.4 349.3,303.7 355.3,306.2 359.9,302.4 360.1,301.6 353.8,294.8" fill="#fbebe6"/>
<polygon points="355.3,306.2 355.5,310.3 360.4,314.9 362.4,314.3 365.3,308.5 359.9,302.4" fill="#fbebe6"/>
<polygon points="319.6,297.2 327.8,296.4 332.4,290.1 332.5,288.9 325.2,279.4 315.9,287.5" fill="#fbebe6"/>
<polygon points="379.9,355.7 383.7,353.3 382.6,348.0 377.7,346.3 376.6,347.6 376.1,354.0" fill="#fbebe6"/>
<polygon points="371.2,292.9 372.9,291.3 372.9,291.1 368.8,287.0 365.5,284.8 364.5,285.7 364.8,291.4" fill="#ffffff"/>
<polygon points="370.9,332.5 373.3,335.0 378.6,334.7 379.2,331.5 375.9,327.1 373.1,326.8" fill="#fbebe6"/>
<polygon points="359.5,338.5 361.0,339.0 366.0,337.5 367.3,333.0 365.0,331.0 360.7,332.5" fill="#ffffff"/>
<polygon points="339.8,308.8 338.3,313.3 345.1,318.2 348.9,315.5 349.0,314.8 345.2,308.5" fill="#ffffff"/>
<polygon points="381.8,379.9 384.2,380.5 385.4,376.1 385.7,374.4 384.9,373.1 382.2,374.2 380.5,378.4" fill="#ffffff"/>
<polygon points="301.3,306.7 293.8,300.4 285.7,303.7 287.2,304.5 290.6,306.1 297.3,307.0 301.1,307.0" fill="#fbebe6"/>
<polygon points="351.0,281.4 350.7,279.6 349.3,278.5 341.2,278.5 339.1,284.4 347.2,288.1 347.4,288.0" fill="#ffffff"/>
<polygon points="318.4,298.4 307.4,298.8 304.2,305.5 306.0,306.7 310.7,306.1 317.4,307.0 318.1,307.2" fill="#fbebe6"/>
<polygon points="270.0,292.6 267.2,292.8 268.7,293.6 271.3,295.5" fill="#fbebe6"/>
<polygon points="346.8,261.5 345.2,268.5 349.0,270.3 350.7,269.7 351.2,268.5 350.4,263.5 349.2,261.8" fill="#ffffff"/>
<polygon points="293.8,300.4 295.8,290.4 285.4,291.0 280.6,301.2 282.2,302.0 285.7,303.7" fill="#ffffff"/>
<polygon points="307.7,273.6 302.9,274.4 295.9,283.4 296.6,289.6 303.9,291.5 310.6,285.9" fill="#fbebe6"/>
<polygon points="337.1,258.5 330.6,261.4 327.8,268.0 329.3,271.9 339.4,267.5 337.8,258.7" fill="#fbebe6"/>
<polygon points="392.5,346.3 389.2,348.1 388.7,352.3 391.1,353.4 392.2,351.8 394.7,348.7" fill="#ffffff"/>
<polygon points="387.5,359.6 387.7,359.2 385.8,353.8 383.7,353.3 379.9,355.7 380.9,360.5" fill="#fbebe6"/>
<polygon points="391.4,314.8 389.7,311.4 383.5,314.4 383.5,314.5 385.2,319.7 390.1,321.1 391.7,319.1" fill="#ffffff"/>
<polygon points="356.5,370.2 358.4,369.6 360.0,365.9 359.4,363.4 352.8,364.6 352.1,366.3 354.4,368.5" fill="#ffffff"/>
<polygon points="372.8,311.6 367.9,317.0 368.4,318.3 372.9,320.6 376.9,318.3 377.1,317.5 373.8,311.5" fill="#ffffff"/>
<polygon points="301.1,307.0 304.0,307.0 306.0,306.7 304.2,305.5 301.3,306.7" fill="#fbebe6"/>
<polygon points="309.7,271.6 325.2,279.2 329.3,272.2 329.3,271.9 327.8,268.0 321.8,265.3 309.9,270.6" fill="#fbebe6"/>
<polygon points="370.9,332.5 373.1,326.8 372.8,326.5 364.8,325.0 365.0,331.0 367.3,333.0" fill="#ffffff"/>
<polygon points="281.6,285.8 285.4,291.0 295.8,290.4 296.6,289.6 295.9,283.4 288.9,279.2 284.1,281.0" fill="#fbebe6"/>
<polygon points="353.6,319.9 348.9,315.5 345.1,318.2 344.0,323.0 351.1,325.3 353.5,323.3" fill="#ffffff"/>
<polygon points="375.2,381.5 375.2,381.5 377.9,383.6 380.0,383.9 381.8,379.9 380.5,378.4 378.8,378.2" fill="#ffffff"/>
<polygon points="285.4,291.0 281.6,285.8 271.7,286.5 270.0,292.6 271.3,295.5 272.1,296.1 277.1,299.4 280.6,301.2" fill="#fbebe6"/>
<polygon points="345.1,355.0 347.3,350.6 347.1,350.0 342.8,348.1 342.0,350.4 343.7,355.4 344.3,355.1 344.4,355.3" fill="#fbebe6"/>
<polygon points="329.3,272.2 325.2,279.2 325.2,279.4 332.5,288.9 339.1,284.4 341.2,278.5 340.9,277.9" fill="#fbebe6"/>
<polygon points="379.5,308.4 383.5,314.4 389.7,311.4 389.0,310.1 384.3,304.7" fill="#fbebe6"/>
<polygon points="366.0,337.5 361.0,339.0 364.3,345.5 368.3,344.4 369.8,341.2" fill="#ffffff"/>
<polygon points="377.7,346.3 377.5,342.9 371.7,340.4 369.8,341.2 368.3,344.4 370.7,347.5 376.6,347.6" fill="#ffffff"/>
<polygon points="303.9,291.5 307.4,298.8 318.4,298.4 319.6,297.2 315.9,287.5 310.6,285.9" fill="#fbebe6"/>
<polygon points="398.0,336.7 393.7,336.4 392.5,342.3 393.0,343.1 398.7,342.8 400.2,340.4" fill="#ffffff"/>
<polygon points="373.7,367.5 372.2,366.0 367.2,366.0 365.9,368.2 366.0,370.5 367.8,372.8 372.4,370.8" fill="#fbebe6"/>
<polygon points="378.8,371.4 382.2,374.2 384.9,373.1 385.9,371.1 384.7,367.2 384.6,367.2 378.8,368.6" fill="#ffffff"/>
<polygon points="361.3,354.0 365.1,352.7 363.6,346.6 356.8,347.6 356.1,351.0" fill="#fbebe6"/>
<polygon points="356.1,351.0 356.8,347.6 355.8,345.6 349.5,343.9 347.1,350.0 347.3,350.6 354.1,352.6" fill="#ffffff"/>
<polygon points="378.6,334.7 373.3,335.0 371.7,340.4 377.5,342.9 381.2,338.4" fill="#ffffff"/>
<polygon points="364.1,291.9 364.8,291.4 364.5,285.7 360.5,283.2 356.5,285.3 356.1,291.0" fill="#fbebe6"/>
<polygon points="327.8,268.0 330.6,261.4 321.8,265.3" fill="#fbebe6"/>
<polygon points="368.4,307.9 372.8,311.6 373.8,311.5 377.4,308.2 374.2,300.4 372.8,299.9 370.8,301.2" fill="#ffffff"/>
<polygon points="360.1,360.3 353.6,357.1 350.9,359.5 350.9,359.7 352.8,364.6 359.4,363.4 360.4,360.9" fill="#ffffff"/>
<polygon points="393.3,319.2 392.4,316.9 391.4,314.8 391.7,319.1" fill="#ffffff"/>
<polygon points="387.5,359.6 380.9,360.5 380.8,360.7 384.6,367.2 384.7,367.2 386.9,365.7 387.1,363.5 387.9,360.6" fill="#fbebe6"/>
<polygon points="354.2,292.4 347.4,288.0 347.2,288.1 342.8,296.8 343.0,297.2 347.7,299.4 353.8,294.8" fill="#fbebe6"/>
<polygon points="296.6,289.6 295.8,290.4 293.8,300.4 301.3,306.7 304.2,305.5 307.4,298.8 303.9,291.5" fill="#ffffff"/>
<polygon points="367.8,372.8 367.8,373.4 372.3,377.1 375.5,375.0 375.6,374.1 372.4,370.8" fill="#ffffff"/>
<polygon points="385.8,340.9 384.1,338.5 381.2,338.4 377.5,342.9 377.7,346.3 382.6,348.0 385.2,346.4" fill="#fbebe6"/>
<polygon points="343.9,341.7 349.0,343.0 351.0,337.6 346.8,334.6 343.1,337.1 343.4,339.1 343.7,339.5 343.7,340.5" fill="#fbebe6"/>
<polygon points="380.4,323.2 375.9,327.1 379.2,331.5 385.2,328.4 381.6,323.4" fill="#ffffff"/>
<polygon points="346.8,332.0 351.2,329.0 351.1,325.3 344.0,323.0 342.6,324.1 342.5,328.5" fill="#fbebe6"/>
<polygon points="378.3,362.2 373.4,360.4 372.5,361.0 372.2,366.0 373.7,367.5 376.9,367.1" fill="#ffffff"/>
<polygon points="372.2,366.0 372.5,361.0 366.8,360.1 366.0,360.9 367.2,366.0" fill="#ffffff"/>
<polygon points="390.5,324.8 387.5,329.1 388.9,332.6 391.8,333.7 397.1,329.4 395.8,326.0" fill="#ffffff"/>
<polygon points="347.1,350.0 349.5,343.9 349.0,343.0 343.9,341.7 343.7,341.9 343.7,345.4 342.8,348.1" fill="#fbebe6"/>
<polygon points="349.3,303.7 345.2,308.5 349.0,314.8 355.5,310.3 355.3,306.2" fill="#fbebe6"/>
<polygon points="341.2,278.5 349.3,278.5 349.0,270.3 345.2,268.5 342.8,269.2 340.9,277.9" fill="#fbebe6"/>
<polygon points="366.2,375.9 367.8,373.4 367.8,372.8 366.0,370.5 361.1,372.1 360.8,373.6 362.0,374.4 365.3,376.1" fill="#ffffff"/>
<polygon points="347.2,288.1 339.1,284.4 332.5,288.9 332.4,290.1 342.8,296.8" fill="#fbebe6"/>
<polygon points="366.8,360.1 367.7,353.8 365.1,352.7 361.3,354.0 360.1,360.3 360.4,360.9 366.0,360.9" fill="#ffffff"/>
<polygon points="384.7,367.2 385.9,371.1 386.2,371.2 386.3,370.2 386.9,365.7" fill="#fbebe6"/>
<polygon points="356.1,291.0 356.5,285.3 351.0,281.4 347.4,288.0 354.2,292.4" fill="#fbebe6"/>
<polygon points="393.7,336.4 391.8,333.7 388.9,332.6 384.1,338.5 385.8,340.9 392.5,342.3" fill="#ffffff"/>
<polygon points="302.3,274.0 300.0,275.0 288.9,279.2 295.9,283.4 302.9,274.4" fill="#fbebe6"/>
<polygon points="359.9,316.1 361.8,324.1 364.8,325.0 368.4,318.3 367.9,317.0 362.4,314.3 360.4,314.9" fill="#ffffff"/>
<polygon points="367.2,366.0 366.0,360.9 360.4,360.9 359.4,363.4 360.0,365.9 365.9,368.2" fill="#ffffff"/>
<polygon points="385.2,319.7 381.6,323.4 385.2,328.4 387.5,329.1 390.5,324.8 390.1,321.1" fill="#fbebe6"/>
<polygon points="360.5,283.2 360.4,282.0 358.7,281.1 353.9,277.9 350.7,279.6 351.0,281.4 356.5,285.3" fill="#ffffff"/>
<polygon points="352.8,364.6 350.9,359.7 347.9,361.4 351.1,365.2 352.1,366.3" fill="#ffffff"/>
<polygon points="358.4,369.6 356.5,370.2 356.4,370.4 360.8,373.6 361.1,372.1" fill="#fbebe6"/>
<polygon points="355.8,345.6 358.3,338.9 353.8,336.6 351.0,337.6 349.0,343.0 349.5,343.9" fill="#fbebe6"/>
<polygon points="398.0,336.7 400.2,340.4 400.5,340.3 399.9,336.1 399.4,335.0" fill="#ffffff"/>
<polygon points="270.0,292.6 271.7,286.5 271.4,285.8 260.1,290.1 260.4,290.2 265.4,291.9 267.2,292.8" fill="#fbebe6"/>
<polygon points="345.2,268.5 346.8,261.5 346.0,260.4 338.1,258.6 337.8,258.7 339.4,267.5 342.8,269.2" fill="#fbebe6"/>
<polygon points="387.5,329.1 385.2,328.4 379.2,331.5 378.6,334.7 381.2,338.4 384.1,338.5 388.9,332.6" fill="#ffffff"/>
<polygon points="378.9,299.1 375.6,293.4 377.2,297.1 373.9,292.0 373.1,291.3 372.9,291.3 371.2,292.9 372.8,299.9 374.2,300.4" fill="#fbebe6"/>
<polygon points="330.9,303.4 327.2,310.8 329.4,311.8 332.8,316.0 333.2,316.8 338.3,313.3 339.8,308.8 337.6,305.0" fill="#fbebe6"/>
<polygon points="335.8,322.4 342.6,324.1 344.0,323.0 345.1,318.2 338.3,313.3 333.2,316.8 335.3,321.1 335.3,321.8" fill="#fbebe6"/>
<polygon points="368.6,353.5 367.7,353.8 366.8,360.1 372.5,361.0 373.4,360.4 374.3,354.9" fill="#ffffff"/>
<polygon points="375.6,374.1 375.5,375.0 378.8,378.2 380.5,378.4 382.2,374.2 378.8,371.4" fill="#ffffff"/>
<polygon points="338.1,258.6 346.0,260.4 346.8,258.4 342.4,256.2 338.7,257.8" fill="#fbebe6"/>
<polygon points="361.9,300.3 370.8,301.2 372.8,299.9 371.2,292.9 364.8,291.4 364.1,291.9" fill="#ffffff"/>
<polygon points="360.5,283.2 364.5,285.7 365.5,284.8 363.8,283.6 360.4,282.0" fill="#fbebe6"/>
<polygon points="347.3,350.6 345.1,355.0 350.9,359.5 353.6,357.1 354.1,352.6" fill="#fbebe6"/>
<polygon points="339.6,331.1 337.7,330.8 337.8,331.1 339.9,333.7" fill="#ffffff"/>
<polygon points="339.6,331.1 342.5,328.5 342.6,324.1 335.8,322.4 335.3,323.6 335.3,326.1 337.7,330.8" fill="#fbebe6"/>
<polygon points="353.5,323.3 351.1,325.3 351.2,329.0 354.2,331.4 357.9,330.0 358.9,325.5" fill="#fbebe6"/>
<polygon points="393.0,343.1 392.5,346.3 394.7,348.7 396.4,346.7 399.0,343.5 398.7,342.8" fill="#ffffff"/>
<polygon points="357.9,330.0 360.7,332.5 365.0,331.0 364.8,325.0 364.8,325.0 361.8,324.1 358.9,325.5" fill="#ffffff"/>
<polygon points="354.2,331.4 353.8,336.6 358.3,338.9 359.5,338.5 360.7,332.5 357.9,330.0" fill="#ffffff"/>
<polygon points="355.5,310.3 349.0,314.8 348.9,315.5 353.6,319.9 359.9,316.1 360.4,314.9" fill="#ffffff"/>
<polygon points="349.2,261.8 347.0,258.5 346.8,258.4 346.0,260.4 346.8,261.5" fill="#fbebe6"/>
<polygon points="385.9,371.1 384.9,373.1 385.7,374.4 386.2,371.2" fill="#ffffff"/>
<polygon points="364.3,345.5 361.0,339.0 359.5,338.5 358.3,338.9 355.8,345.6 356.8,347.6 363.6,346.6" fill="#ffffff"/>
<polygon points="318.1,307.2 324.1,309.5 327.2,310.8 330.9,303.4 327.8,296.4 319.6,297.2 318.4,298.4" fill="#ffffff"/>
<polygon points="387.7,359.2 388.3,359.0 388.8,356.8 391.1,353.4 388.7,352.3 385.8,353.8" fill="#fbebe6"/>
<polygon points="383.5,314.4 379.5,308.4 377.4,308.2 373.8,311.5 377.1,317.5 383.5,314.5" fill="#ffffff"/>
<polygon points="376.1,354.0 376.6,347.6 370.7,347.5 368.6,353.5 374.3,354.9" fill="#fbebe6"/>
<polygon points="373.4,360.4 378.3,362.2 380.8,360.7 380.9,360.5 379.9,355.7 376.1,354.0 374.3,354.9" fill="#fbebe6"/>
<polygon points="350.7,279.6 353.9,277.9 353.7,277.8 349.5,272.7 350.7,269.7 349.0,270.3 349.3,278.5" fill="#fbebe6"/>
<polygon points="388.7,352.3 389.2,348.1 385.2,346.4 382.6,348.0 383.7,353.3 385.8,353.8" fill="#fbebe6"/>
<polygon points="372.9,320.6 372.8,326.5 373.1,326.8 375.9,327.1 380.4,323.2 376.9,318.3" fill="#ffffff"/>
<polygon points="360.1,301.6 361.9,300.3 364.1,291.9 356.1,291.0 354.2,292.4 353.8,294.8" fill="#ffffff"/>
<polygon points="391.7,319.1 390.1,321.1 390.5,324.8 395.8,326.0 394.9,323.6 393.3,319.2" fill="#ffffff"/>
<polygon points="315.9,287.5 325.2,279.4 325.2,279.2 309.7,271.6 307.7,273.6 310.6,285.9" fill="#fbebe6"/>
<polygon points="368.3,344.4 364.3,345.5 363.6,346.6 365.1,352.7 367.7,353.8 368.6,353.5 370.7,347.5" fill="#ffffff"/>
<polygon points="400.2,340.4 398.7,342.8 399.0,343.5 400.6,341.7 400.8,342.0 400.5,340.3" fill="#ffffff"/>
<polygon points="375.2,381.5 378.8,378.2 375.5,375.0 372.3,377.1 372.1,379.1 373.5,380.2 373.7,380.3 375.0,381.3" fill="#ffffff"/>
<polygon points="374.2,300.4 377.4,308.2 379.5,308.4 384.3,304.7 384.0,304.3 378.9,299.2 378.9,299.1" fill="#fbebe6"/>
<polygon points="271.7,286.5 281.6,285.8 284.1,281.0 271.4,285.8" fill="#fbebe6"/>
<polygon points="366.0,337.5 369.8,341.2 371.7,340.4 373.3,335.0 370.9,332.5 367.3,333.0" fill="#ffffff"/>
<polygon points="343.1,337.1 346.8,334.6 346.8,332.0 342.5,328.5 339.6,331.1 339.9,333.7 341.2,335.3 342.1,336.8" fill="#fbebe6"/>
<polygon points="372.1,379.1 372.3,377.1 367.8,373.4 366.2,375.9 366.4,376.6 368.7,377.8 371.7,379.3" fill="#ffffff"/>
<polygon points="391.8,333.7 393.7,336.4 398.0,336.7 399.4,335.0 397.4,330.3 397.1,329.4" fill="#fbebe6"/>
<polygon points="350.9,359.7 350.9,359.5 345.1,355.0 344.4,355.3 346.9,360.1 347.9,361.4" fill="#fbebe6"/>
<polygon points="384.6,367.2 380.8,360.7 378.3,362.2 376.9,367.1 378.8,368.6" fill="#ffffff"/>
<polygon points="383.5,314.5 377.1,317.5 376.9,318.3 380.4,323.2 381.6,323.4 385.2,319.7" fill="#ffffff"/>
<polygon points="353.6,357.1 360.1,360.3 361.3,354.0 356.1,351.0 354.1,352.6" fill="#fbebe6"/>
<polygon points="367.9,317.0 372.8,311.6 368.4,307.9 365.3,308.5 362.4,314.3" fill="#ffffff"/>
<polygon points="376.9,367.1 373.7,367.5 372.4,370.8 375.6,374.1 378.8,371.4 378.8,368.6" fill="#ffffff"/>
<polygon points="351.2,329.0 346.8,332.0 346.8,334.6 351.0,337.6 353.8,336.6 354.2,331.4" fill="#ffffff"/>
<polygon points="380.0,383.9 381.3,384.0 383.8,382.0 384.2,380.5 381.8,379.9" fill="#ffffff"/>
<polygon points="359.9,302.4 365.3,308.5 368.4,307.9 370.8,301.2 361.9,300.3 360.1,301.6" fill="#ffffff"/>
<polygon points="342.8,269.2 339.4,267.5 329.3,271.9 329.3,272.2 340.9,277.9" fill="#fbebe6"/>
<polygon points="392.5,346.3 393.0,343.1 392.5,342.3 385.8,340.9 385.2,346.4 389.2,348.1" fill="#ffffff"/>
<polygon points="361.8,324.1 359.9,316.1 353.6,319.9 353.5,323.3 358.9,325.5" fill="#ffffff"/>
<polygon points="360.0,365.9 358.4,369.6 361.1,372.1 366.0,370.5 365.9,368.2" fill="#ffffff"/>
<polygon points="372.9,320.6 368.4,318.3 364.8,325.0 364.8,325.0 372.8,326.5" fill="#fbebe6"/>
<polygon points="65.4,58.1 70.4,60.4 82.2,61.4 93.9,60.9 90.6,63.4 82.2,65.9 78.8,70.1 72.9,75.2 65.4,75.2 60.4,71.0 57.8,66.8 60.4,61.8" fill="#fbebe6"/>
<polygon points="65.4,65.9 70.4,65.1 74.6,67.6 73.8,72.7 68.7,74.3 64.5,71.8" fill="#ffffff"/>
<polygon points="57.0,71.8 60.4,71.0 65.4,75.2 64.5,81.0 60.4,86.1 52.8,85.2 51.1,81.0" fill="#f2c9ca"/>
<polygon points="65.4,75.2 72.9,75.2 78.8,70.1 83.8,71.8 87.2,77.7 90.6,85.2 88.0,90.3 83.8,86.9 77.1,82.7 70.4,80.2 64.5,81.0" fill="#f2c9ca"/>
<polygon points="82.2,65.9 90.6,63.4 93.9,60.9 98.1,59.2 101.5,59.7 100.6,66.8 103.2,73.5 97.3,78.5 92.2,85.2 90.6,85.2 87.2,77.7 83.8,71.8 78.8,70.1" fill="#d993a8"/>
<polygon points="101.5,59.7 110.7,62.1 114.1,66.8 119.1,75.2 117.4,81.9 110.7,80.2 103.2,73.5 100.6,66.8" fill="#fbebe6"/>
<polygon points="117.4,81.9 120.0,82.7 128.4,81.0 132.6,76.8 141.0,77.7 142.7,82.7 146.0,84.4 140.1,89.4 138.5,92.8 141.8,98.7 135.1,102.0 130.1,104.5 126.7,108.7 125.0,113.8 123.5,110.1 123.5,116.8 126.8,123.5 127.7,130.2 131.9,137.8 133.6,142.0 132.7,148.7 133.6,155.4 136.9,159.6 130.1,165.2 125.0,167.7 120.0,171.1 118.9,175.2 113.8,175.2 108.8,172.7 103.8,170.1 100.4,167.6 101.3,164.3 100.6,163.7 101.5,159.5 106.5,157.8 112.4,155.3 114.9,150.3 114.1,143.6 110.7,139.4 110.7,136.8 106.5,135.2 104.0,131.8 103.2,126.8 103.2,120.1 104.8,116.7 107.3,113.8 110.7,110.4 117.4,103.7 120.8,97.0 119.9,88.6" fill="#c85677"/>
<polygon points="117.6,128.5 121.8,126.0 125.2,126.8 124.3,130.2 120.1,132.7 117.6,131.1" fill="#f2c9ca"/>
<polygon points="64.5,81.0 70.4,80.2 77.1,82.7 83.8,86.9 88.0,90.3 86.4,96.2 88.9,102.0 83.8,107.9 77.1,111.8 71.3,110.1 65.4,105.9 63.7,95.3 65.4,88.6" fill="#c42b59"/>
<polygon points="41.9,81.0 46.1,81.9 51.1,81.0 52.8,85.2 60.4,86.1 64.5,81.0 65.4,88.6 63.7,95.3 65.4,105.9 60.4,105.7 55.3,106.2 52.0,100.3 47.8,95.3 44.4,88.6" fill="#c42b59"/>
<polygon points="88.0,90.3 92.2,89.4 96.4,93.6 97.3,100.3 93.9,106.2 88.9,102.0 86.4,96.2" fill="#f2c9ca"/>
<polygon points="92.2,85.2 97.3,78.5 103.2,73.5 110.7,80.2 109.0,83.6 104.0,86.9 101.5,93.6 102.3,100.3 104.0,107.1 104.8,114.6 104.8,116.7 103.2,120.1 99.0,112.1 93.9,106.2 97.3,100.3 96.4,93.6 92.2,89.4 88.0,90.3 90.6,85.2" fill="#c42b59"/>
<polygon points="104.0,86.9 109.0,83.6 117.4,81.9 119.9,88.6 120.8,97.0 117.4,103.7 110.7,110.4 107.3,113.8 104.8,116.7 104.8,114.6 104.0,107.1 102.3,100.3 101.5,93.6" fill="#c42b59"/>
<polygon points="77.1,111.8 83.8,107.9 88.9,102.0 93.9,106.2 99.0,112.1 103.2,120.1 103.2,126.8 104.0,131.8 106.5,135.2 104.0,137.7 97.3,140.2 90.6,142.7 82.2,142.7 76.3,142.7 74.6,141.9 78.8,137.7 79.7,133.5 77.1,130.1 79.7,123.4 78.8,115.0 80.5,114.6" fill="#c42b59"/>
<polygon points="55.3,106.2 60.4,105.7 65.4,105.9 71.3,110.1 77.1,111.8 80.5,114.6 78.8,115.0 79.7,123.4 77.1,130.1 73.8,132.7 65.4,131.8 58.7,131.8 57.8,126.8 54.5,120.1 51.1,115.0 54.5,112.1" fill="#c85677"/>
<polygon points="58.7,131.8 65.4,131.8 73.8,132.7 77.1,130.1 79.7,133.5 78.8,137.7 74.6,141.9 72.1,143.6 62.0,142.7 52.8,141.9 51.1,137.7 54.5,134.3" fill="#c85677"/>
<polygon points="60.4,147.8 67.1,146.1 72.1,148.6 72.9,152.0 67.1,155.3 62.9,158.7 59.5,159.5 57.8,156.2 60.4,152.0" fill="#c85677"/>
<polygon points="51.1,144.4 60.4,144.4 60.4,152.0 57.8,156.2 52.0,154.5 49.4,151.1" fill="#fbebe6"/>
<polygon points="63.7,158.7 67.1,155.3 72.9,152.0 77.1,153.6 76.3,160.3 72.1,163.7 65.4,162.9" fill="#fbebe6"/>
<polygon points="76.1,165.9 78.6,165.1 83.6,170.1 90.3,172.7 97.9,175.2 97.1,178.5 90.3,177.7 84.5,178.5 82.0,176.8 78.6,175.2 76.1,171.0" fill="#fbebe6"/>
<polygon points="63.5,159.2 69.4,155.9 76.1,155.0 76.1,161.8 73.6,164.3 66.8,164.3 63.5,162.6" fill="#fbebe6"/>
<polygon points="76.3,142.7 82.2,142.7 81.3,148.6 77.1,152.0 73.8,149.4 74.6,144.4" fill="#fbebe6"/>
<polygon points="106.5,141.9 110.7,139.4 114.1,143.6 114.9,150.3 112.4,155.3 106.5,157.8 104.0,153.6 107.3,148.6 105.7,144.4" fill="#fbebe6"/>
<polygon points="22.6,103.5 28.5,101.8 33.5,104.3 32.7,110.2 26.8,111.0 22.6,108.5" fill="#fbebe6"/>
<polygon points="35.2,107.7 41.0,106.8 44.4,110.2 42.7,114.9 36.9,114.4" fill="#fbebe6"/>
<polygon points="36.9,123.6 43.6,122.8 46.9,127.0 46.1,133.7 39.4,134.5 36.9,129.5" fill="#fbebe6"/>
<polygon points="26.8,95.1 32.7,93.4 35.2,98.4 31.8,101.8 27.6,100.9" fill="#fbebe6"/>
<polygon points="131.8,60.9 138.5,59.2 139.3,65.1 138.5,71.8 141.8,76.8 141.0,77.7 132.6,76.8 131.8,71.8 133.4,66.8" fill="#fbebe6"/>
<polygon points="150.2,61.8 155.2,65.9 158.6,70.1 160.3,76.8 159.4,83.6 156.1,87.8 152.7,86.1 147.7,83.6 144.3,81.0 144.3,75.2 145.2,71.8 146.8,65.9" fill="#fbebe6"/>
<polygon points="146.0,84.4 147.7,83.6 152.7,86.1 156.1,87.8 150.2,92.0 145.2,96.2 141.8,98.7 138.5,92.8 140.1,89.4" fill="#ffffff"/>
<polygon points="138.5,59.2 145.2,59.2 150.2,61.8 146.8,65.9 145.2,71.8 144.3,75.2 141.8,76.8 138.5,71.8 139.3,65.1" fill="#ffffff"/>
<polygon points="127.7,130.2 135.2,133.6 142.0,137.8 148.7,142.0 153.7,145.3 157.1,148.7 152.0,150.3 150.3,153.7 145.3,154.6 142.0,150.3 139.4,152.0 140.3,157.1 136.9,159.6 133.6,155.4 132.7,148.7 133.6,142.0 131.9,137.8" fill="#fbebe6"/>
<polygon points="145.3,154.6 150.3,153.7 157.1,148.7 163.8,150.3 170.5,153.7 168.8,157.9 163.8,159.6 157.1,158.7 150.3,160.4 146.2,158.7 142.0,157.9 140.3,157.1 139.4,152.0 142.0,150.3" fill="#c85677"/>
<polygon points="120.0,171.1 125.0,167.7 131.8,165.2 136.8,161.0 141.0,156.8 145.2,157.6 146.0,161.8 145.2,165.2 141.8,167.7 136.8,169.4 131.8,171.1 126.7,173.6 123.4,176.1 120.0,176.1" fill="#c42b59"/>
<polygon points="145.2,165.2 146.0,161.8 149.4,161.8 156.1,160.1 163.6,159.3 168.7,159.3 170.3,165.2 171.2,171.9 169.5,176.1 167.8,180.3 163.6,185.3 160.3,190.3 156.1,193.7 152.7,194.6 151.1,190.3 151.9,185.3 148.5,180.3 145.2,175.2 142.7,171.1 141.8,167.7" fill="#c42b59"/>
<polygon points="120.0,176.1 123.4,176.1 126.7,173.6 131.8,171.1 136.8,169.4 141.8,167.7 142.7,171.1 145.2,175.2 148.5,180.3 151.9,185.3 151.1,190.3 152.7,194.6 146.8,196.2 141.8,197.9 136.8,193.7 134.3,189.5 130.9,186.2 129.2,182.0 125.0,178.6" fill="#c85677"/>
<polygon points="128.4,199.6 133.4,197.1 136.8,193.7 141.8,197.9 146.8,196.2 152.7,194.6 156.1,193.7 158.6,196.2 159.4,200.4 159.5,196.7 158.7,200.9 153.6,204.3 148.6,207.6 142.7,210.1 137.7,205.1 131.8,202.6 127.6,200.1" fill="#f2c9ca"/>
<polygon points="153.6,204.3 158.7,204.3 162.0,206.8 160.3,211.8 155.3,213.5 152.8,210.1" fill="#ffffff"/>
<polygon points="168.8,157.9 170.5,153.7 177.2,157.1 183.9,162.1 180.4,162.7 179.6,166.8 178.7,171.1 175.4,171.9 171.2,171.9 170.3,165.2 168.7,159.3" fill="#d993a8"/>
<polygon points="181.3,163.5 186.3,162.7 190.5,166.0 189.7,171.1 187.1,176.1 182.9,174.4 179.6,171.9 180.4,166.8" fill="#c42b59"/>
<polygon points="169.5,176.1 171.2,171.9 175.4,171.9 178.7,171.1 181.3,173.6 182.9,176.1 181.3,180.3 177.1,183.6 174.6,187.8 172.0,193.7 168.7,197.9 165.3,197.1 162.0,194.6 160.3,190.3 163.6,185.3 167.8,180.3" fill="#fbebe6"/>
<polygon points="190.5,166.0 195.5,170.2 200.6,173.6 198.9,177.8 195.5,180.3 191.3,177.8 187.1,176.1 189.7,171.1" fill="#d993a8"/>
<polygon points="200.6,173.6 207.3,174.4 211.5,177.8 207.3,179.4 202.2,181.1 198.9,177.8" fill="#f2c9ca"/>
<polygon points="182.9,176.1 187.1,176.1 188.0,182.0 187.1,188.7 185.4,193.7 182.1,198.7 177.1,202.1 172.0,203.8 173.8,191.7 170.4,196.7 165.4,198.4 160.3,195.0 159.4,200.4 158.6,196.2 156.1,193.7 160.3,190.3 162.0,194.6 165.3,197.1 168.7,197.9 172.0,193.7 174.6,187.8 177.1,183.6 181.3,180.3" fill="#d993a8"/>
<polygon points="260.5,212.9 266.4,210.3 268.9,207.8 275.6,213.7 282.3,218.7 282.2,220.0 278.9,222.6 272.2,228.4 267.1,230.1 263.8,227.6 264.6,221.7 261.3,218.7" fill="#f2c9ca"/>
<polygon points="253.8,217.1 257.1,215.4 261.3,218.7 264.6,221.7 263.8,227.6 260.4,230.1 257.9,229.3 253.7,223.4 257.1,218.4" fill="#ffffff"/>
<polygon points="168.7,204.3 175.4,203.4 182.2,204.3 188.9,206.8 195.6,209.3 201.5,212.7 204.8,216.8 204.0,223.6 203.2,229.4 198.9,234.5 195.6,235.3 188.9,236.2 185.5,237.0 183.8,234.5 182.2,230.3 178.8,223.6 177.1,216.8 173.8,210.1" fill="#c85677"/>
<polygon points="158.7,200.9 162.0,200.1 168.7,204.3 173.8,210.1 177.1,216.8 178.8,223.6 182.2,230.3 183.8,234.5 177.1,237.8 172.9,240.3 168.7,235.3 163.7,229.4 158.7,223.6 154.5,217.7 153.6,213.5 160.3,211.8 162.0,206.8 158.7,204.3" fill="#d993a8"/>
<polygon points="160.3,195.0 165.4,198.4 170.4,196.7 173.8,191.7 177.1,190.0 187.2,190.0 185.5,195.0 182.2,200.1 182.2,204.3 175.4,203.4 168.7,204.3 162.0,200.1 158.7,200.9 159.5,196.7" fill="#d993a8"/>
<polygon points="203.2,229.4 204.0,223.6 210.7,223.6 215.7,221.9 219.9,226.1 220.8,230.3 216.6,233.6 214.9,239.5 209.0,240.3 204.0,240.3 200.6,237.0 198.9,234.5" fill="#d993a8"/>
<polygon points="205.7,243.7 209.0,240.3 214.9,239.5 210.1,240.2 215.1,241.8 219.3,248.6 221.0,257.0 218.5,262.0 211.8,260.3 206.7,257.0 205.0,250.2 205.7,255.4 204.8,248.7" fill="#fbebe6"/>
<polygon points="218.5,227.6 225.2,224.2 233.6,224.2 239.4,228.4 240.3,234.3 236.1,237.7 230.2,240.2 223.5,241.0 216.8,242.7 215.1,241.8 210.1,240.2 214.9,239.5 216.6,233.6 220.8,230.3 219.9,226.1" fill="#d993a8"/>
<polygon points="216.6,211.8 208.5,225.4 215.2,223.8 219.4,223.8 226.1,221.3 233.6,224.2 225.2,224.2 218.5,227.6 219.9,226.1 215.7,221.9 218.2,216.8" fill="#d993a8"/>
<polygon points="226.1,221.3 227.8,218.7 232.8,217.9 236.2,219.6 240.3,222.1 248.7,219.2 243.6,223.4 239.4,228.4 233.6,224.2" fill="#d993a8"/>
<polygon points="239.4,228.4 243.6,223.4 248.7,219.2 240.3,222.1 245.4,222.1 253.7,223.4 257.9,229.3 257.1,231.8 250.3,230.1 243.6,230.9 240.3,234.3" fill="#d993a8"/>
<polygon points="245.4,217.1 248.7,220.4 253.8,217.1 257.1,218.4 253.7,223.4 245.4,222.1 244.6,218.7" fill="#d993a8"/>
<polygon points="240.3,234.3 243.6,230.9 250.3,230.1 257.1,231.8 258.7,236.8 257.1,242.7 253.7,245.2 247.0,244.4 240.3,240.2 236.1,237.7" fill="#f2c9ca"/>
<polygon points="206.7,257.0 211.8,260.3 218.5,262.0 215.9,268.7 218.5,273.7 221.0,277.9 224.3,281.3 220.1,287.7 213.4,282.1 206.7,277.1 203.4,272.1 205.0,263.7" fill="#f2c9ca"/>
<polygon points="216.8,242.7 223.5,241.0 229.4,241.0 230.2,248.6 230.2,255.3 231.9,262.0 229.4,268.7 232.7,272.9 231.9,276.3 231.8,276.8 225.1,282.7 220.1,287.7 224.3,281.3 221.0,277.9 218.5,273.7 215.9,268.7 218.5,262.0 221.0,257.0 219.3,248.6 215.1,241.8" fill="#d993a8"/>
<polygon points="229.4,241.0 236.1,237.7 240.3,240.2 247.0,244.4 253.7,245.2 256.2,249.4 250.3,251.1 245.3,255.3 243.6,259.5 236.1,259.5 231.9,262.0 230.2,255.3 230.2,248.6" fill="#fbebe6"/>
<polygon points="231.9,262.0 236.1,259.5 243.6,259.5 242.0,265.4 238.6,272.9 238.5,273.4 231.8,276.8 231.9,276.3 232.7,272.9 229.4,268.7" fill="#f2c9ca"/>
<polygon points="243.6,259.5 245.3,255.3 250.3,251.1 256.2,249.4 257.1,254.4 253.7,258.6 250.3,263.7 245.3,271.2 245.2,271.8 238.5,273.4 238.6,272.9 242.0,265.4" fill="#f2c9ca"/>
<polygon points="272.2,228.4 278.9,222.6 282.2,220.0 287.3,224.2 291.5,229.3 290.6,233.5 287.3,236.8 282.2,236.0 278.9,233.5 274.7,232.6 271.3,232.6 267.1,230.1" fill="#d993a8"/>
<polygon points="258.7,231.8 260.4,230.1 263.8,227.6 267.1,230.1 271.3,232.6 270.5,236.8 266.3,238.5 260.4,237.7 258.7,236.8 257.1,231.8 257.9,229.3" fill="#ffffff"/>
<polygon points="270.5,233.5 274.7,232.6 278.9,233.5 280.6,237.7 277.2,241.0 272.2,240.2 270.5,236.8" fill="#ffffff"/>
<polygon points="280.6,237.7 282.2,236.0 287.3,236.8 290.6,240.2 288.1,244.4 283.1,245.2 280.6,241.8" fill="#f2c9ca"/>
<polygon points="257.1,242.7 258.7,236.8 260.4,237.7 266.3,238.5 270.5,236.8 272.2,240.2 277.2,241.0 280.6,237.7 280.6,241.8 283.1,245.2 282.2,248.6 283.1,253.6 280.6,258.6 273.9,260.3 268.8,258.6 264.6,254.4 257.1,254.4 256.2,249.4 253.7,245.2" fill="#f2c9ca"/>
<polygon points="291.5,229.3 297.3,232.6 304.1,236.0 310.8,239.3 307.4,243.5 306.6,248.6 307.4,254.4 300.7,252.8 294.0,251.1 287.3,249.4 282.2,248.6 283.1,245.2 288.1,244.4 290.6,240.2 287.3,236.8 290.6,233.5" fill="#c42b59"/>
<polygon points="310.8,239.3 316.8,243.4 323.5,247.6 321.8,251.8 320.1,256.8 315.1,254.3 311.8,250.9 315.8,252.8 310.8,255.3 307.4,254.4 306.6,248.6 307.4,243.5" fill="#c42b59"/>
<polygon points="283.1,253.6 282.2,248.6 287.3,249.4 294.0,251.1 300.7,252.8 304.9,256.1 300.7,261.1 295.7,262.8 290.6,262.0 285.6,259.5 280.6,258.6" fill="#d993a8"/>
<polygon points="257.1,254.4 264.6,254.4 268.8,258.6 273.9,260.3 275.5,265.4 272.2,268.7 267.1,267.0 262.1,268.7 257.1,270.4 253.7,268.7 250.3,263.7 253.7,258.6" fill="#ffffff"/>
<polygon points="250.3,270.1 252.8,268.4 255.3,270.9 260.4,272.6 265.4,270.9 270.4,270.9 275.4,269.2 277.1,272.6 274.6,275.9 272.9,280.1 274.6,285.2 275.4,291.1 272.1,291.9 268.7,293.6 265.4,291.9 260.4,290.2 257.0,287.7 259.5,285.2 257.8,281.0 256.1,276.8 252.8,274.3" fill="#c42b59"/>
<polygon points="281.3,281.8 284.7,283.5 283.9,287.7 280.5,289.4 278.8,286.9" fill="#c42b59"/>
<polygon points="277.1,294.4 280.5,293.6 283.0,296.1 282.2,300.3 278.8,300.3 276.3,297.8" fill="#c42b59"/>
<polygon points="276.3,263.4 280.5,261.7 284.7,266.7 287.2,272.6 289.7,278.5 287.2,281.0 283.9,279.3 280.5,275.1 277.1,272.6 275.4,269.2" fill="#f2c9ca"/>
<polygon points="286.4,263.7 290.6,262.0 292.3,267.0 290.6,272.9 287.3,272.1 286.4,268.7" fill="#ffffff"/>
<polygon points="292.2,265.0 297.3,262.5 304.0,263.4 307.3,268.4 308.2,273.4 304.0,276.8 300.6,281.8 297.3,286.0 292.2,283.5 288.9,279.3 289.7,273.4 291.4,269.2" fill="#c85677"/>
<polygon points="300.6,281.8 304.0,276.8 308.2,273.4 312.4,275.9 315.7,278.5 313.2,283.5 310.7,286.9 305.7,285.2" fill="#c85677"/>
<polygon points="315.7,278.5 317.4,274.3 320.8,275.1 322.4,280.1 320.8,285.2 317.4,286.9 313.2,283.5" fill="#d993a8"/>
<polygon points="300.7,261.1 304.9,256.1 307.4,254.4 310.8,255.3 311.6,260.3 309.1,263.7 304.9,263.7" fill="#f2c9ca"/>
<polygon points="304.9,258.3 308.8,257.3 309.9,261.7 306.7,264.0" fill="#ffffff"/>
<polygon points="310.8,255.3 315.8,252.8 311.8,250.9 315.1,254.3 320.1,256.8 319.3,262.7 315.1,261.8 312.6,258.5 315.8,263.7 311.6,260.3" fill="#d993a8"/>
<polygon points="309.1,263.7 311.6,260.3 315.8,263.7 315.1,261.8 316.8,266.9 315.9,271.9 312.6,274.4 317.4,274.3 314.1,272.6 310.7,270.1 308.2,273.4 307.3,268.4" fill="#f2c9ca"/>
<polygon points="319.3,262.7 325.2,264.3 329.4,266.9 331.1,271.9 331.9,277.8 327.7,280.3 323.5,282.8 321.0,280.3 320.1,274.4 316.8,273.6 315.9,271.9 316.8,266.9 315.1,261.8" fill="#c85677"/>
<polygon points="323.5,247.6 330.2,250.9 336.9,253.4 342.0,255.9 347.0,258.5 350.4,263.5 351.2,268.5 349.5,272.7 345.3,274.4 340.3,276.9 334.4,279.4 331.9,277.8 331.1,271.9 329.4,266.9 325.2,264.3 319.3,262.7 320.1,256.8 321.8,251.8" fill="#c42b59"/>
<polygon points="297.3,286.0 300.6,281.8 305.7,285.2 310.7,286.9 312.4,293.6 310.7,300.3 310.7,305.3 304.0,307.0 300.6,302.0 297.3,298.6 298.1,291.9" fill="#fbebe6"/>
<polygon points="188.3,177.2 194.7,176.8 197.1,179.7 197.6,183.6 194.7,186.1 190.8,190.4 188.8,192.9 187.3,187.5 186.8,181.6" fill="#ffffff"/>
<polygon points="200.6,180.2 209.4,178.7 211.3,177.7 212.8,180.7 213.3,184.1 212.3,187.5 208.4,189.0 201.5,190.4 196.6,192.4 192.7,195.3 188.8,199.3 184.9,202.2 182.2,204.3 182.2,200.1 182.9,199.3 186.8,195.3 190.8,190.4 194.7,186.1 197.6,183.6 197.1,179.7" fill="#c85677"/>
<polygon points="192.7,195.3 196.6,192.4 201.5,190.4 208.4,189.0 211.3,189.5 210.3,192.4 206.4,194.4 200.6,196.3 195.7,198.3 191.8,199.3 189.8,203.2 189.7,205.9 188.9,206.8 182.2,204.3 184.9,202.2 188.8,199.3" fill="#c85677"/>
<polygon points="211.3,177.7 215.2,178.7 219.2,181.2 221.1,182.6 219.2,186.1 216.2,184.6 213.3,184.1 212.8,180.7" fill="#c42b59"/>
<polygon points="219.2,181.2 225.0,183.1 230.9,185.6 234.3,187.5 232.9,190.4 229.9,191.9 227.0,193.4 226.0,196.3 224.6,197.8 223.1,194.4 221.6,190.9 219.2,186.1 221.1,182.6" fill="#c42b59"/>
<polygon points="213.3,184.1 216.2,184.6 219.2,186.1 220.1,190.0 218.2,191.9 215.2,190.4 213.8,187.5" fill="#d993a8"/>
<polygon points="210.3,191.4 214.3,190.4 215.2,190.4 218.2,191.9 217.7,193.4 217.2,197.3 214.3,198.3 211.3,195.3" fill="#f2c9ca"/>
<polygon points="219.2,192.4 220.1,190.0 221.6,190.9 223.1,194.4 222.6,198.3 220.6,197.3 219.2,195.3" fill="#c85677"/>
<polygon points="227.0,193.4 229.9,191.9 232.9,190.4 234.3,187.5 236.3,189.0 236.3,191.4 235.8,194.4 235.3,197.3 231.9,198.3 230.9,194.4" fill="#d993a8"/>
<polygon points="236.3,191.4 236.3,189.0 238.7,190.0 242.7,191.4 244.1,193.4 242.7,196.3 239.7,199.3 237.3,199.8 235.3,197.3 235.8,194.4" fill="#c42b59"/>
<polygon points="224.6,197.8 226.0,196.3 227.0,193.4 230.9,194.4 231.9,198.3 229.9,202.2 226.0,203.2 224.1,200.2" fill="#d993a8"/>
<polygon points="210.8,192.0 215.7,191.0 218.1,193.9 217.1,197.3 213.7,198.8 211.3,196.8" fill="#f2c9ca"/>
<polygon points="200.0,199.8 204.9,198.3 206.8,200.8 205.9,204.7 202.0,205.7 200.0,204.7 189.7,205.9 193.9,201.8" fill="#ffffff"/>
<polygon points="205.9,199.8 209.8,198.3 212.7,200.8 213.7,204.7 211.8,208.1 208.8,209.1 207.3,205.7 205.9,204.7 206.8,200.8" fill="#f2c9ca"/>
<polygon points="214.7,198.8 218.1,197.8 221.1,200.3 222.0,203.7 219.6,206.6 215.7,207.1 213.7,204.7 212.7,200.8" fill="#ffffff"/>
<polygon points="221.1,194.9 224.0,193.9 225.9,196.8 228.4,199.8 227.9,203.7 225.0,207.1 223.0,204.7 222.0,201.8 221.1,200.3 219.6,197.8" fill="#c85677"/>
<polygon points="228.4,202.7 231.3,201.3 234.3,202.2 235.7,205.7 235.7,209.6 233.3,214.0 229.9,215.9 227.9,213.5 226.9,209.6 227.4,205.7" fill="#f2c9ca"/>
<polygon points="235.7,200.8 241.1,197.8 244.6,199.8 245.0,202.7 243.6,206.2 240.6,208.1 236.7,208.1 235.7,205.7 234.3,202.2" fill="#f2c9ca"/>
<polygon points="244.1,195.4 246.0,193.4 251.9,197.3 255.8,199.8 253.8,201.3 249.9,200.8 247.0,202.2 244.6,199.8" fill="#f2c9ca"/>
<polygon points="247.0,202.2 249.9,200.8 253.8,201.3 256.3,203.7 256.8,209.6 255.8,214.5 252.9,216.9 249.9,219.4 247.0,217.4 245.0,214.5 244.6,209.6 243.6,206.2 245.0,202.7" fill="#d993a8"/>
<polygon points="236.7,209.1 240.6,208.1 243.6,208.6 244.6,212.5 245.0,216.4 242.1,220.3 238.7,221.8 236.2,218.4 235.2,213.5" fill="#ffffff"/>
<polygon points="229.9,215.9 233.3,214.0 235.2,213.5 236.2,218.4 237.2,220.3 234.3,222.3 231.3,221.8 228.9,219.4" fill="#f2c9ca"/>
<polygon points="255.8,199.8 258.7,200.8 263.6,204.7 267.6,207.6 265.6,209.6 262.7,211.1 258.7,213.0 256.8,209.6 256.3,203.7" fill="#fbebe6"/>
<polygon points="253.4,217.4 256.8,215.4 260.7,217.4 263.6,221.3 264.6,226.2 261.7,228.2 258.7,225.2 255.8,222.3" fill="#ffffff"/>
<polygon points="205.9,213.5 210.8,212.0 215.7,211.1 217.6,214.5 218.1,218.4 216.2,222.3 211.8,223.8 206.8,223.8 204.9,219.4" fill="#d993a8"/>
<polygon points="215.7,207.1 219.6,206.6 223.0,204.7 225.0,207.1 226.9,209.6 227.9,213.5 229.9,215.9 228.9,219.4 225.4,223.3 221.1,226.2 218.1,224.3 216.2,222.3 218.1,218.4 217.6,214.5 215.7,211.1" fill="#d993a8"/>
<polygon points="200.0,205.7 202.0,205.7 205.9,204.7 207.3,205.7 208.8,209.1 207.3,213.0 204.4,214.5 201.5,212.5 200.0,209.6 197.3,209.3 195.6,209.3" fill="#f2c9ca"/>
<polygon points="221.1,226.2 225.4,223.3 228.9,219.4 231.3,221.8 234.3,222.3 237.2,220.3 238.7,221.8 242.1,220.3 243.1,223.3 241.1,227.2 242.1,231.0 224.5,231.0" fill="#d993a8"/>
<polygon points="242.1,220.3 245.0,216.4 247.0,217.4 249.9,219.4 252.9,216.9 253.4,217.4 255.8,222.3 258.7,225.2 257.8,229.2 254.8,231.0 242.1,231.0 241.1,227.2 243.1,223.3" fill="#d993a8"/>
<polygon points="340.3,276.9 345.3,274.4 349.5,272.7 353.7,277.8 352.0,282.0 350.4,286.1 347.0,288.7 343.6,286.1 342.0,283.6 342.8,279.4" fill="#f2c9ca"/>
<polygon points="347.8,276.1 352.9,277.3 353.4,281.1 351.2,283.6 348.7,281.1" fill="#ffffff"/>
<polygon points="342.0,286.1 347.0,288.7 350.4,286.1 353.7,288.7 354.6,295.4 355.4,300.4 352.0,303.8 348.7,301.3 345.3,297.1 342.8,292.0" fill="#f2c9ca"/>
<polygon points="353.7,277.8 358.7,281.1 363.8,283.6 368.8,287.0 373.9,292.0 377.2,297.1 375.6,293.4 378.9,299.2 377.3,302.6 372.2,302.6 367.2,305.1 362.2,305.9 358.8,304.3 357.1,300.1 354.6,295.9 355.4,300.4 354.6,295.4 355.4,290.4 353.7,285.3 352.0,282.0" fill="#c42b59"/>
<polygon points="358.7,287.8 361.3,288.7 360.4,292.9 362.1,296.2 359.6,297.9 357.9,293.7" fill="#f2c9ca"/>
<polygon points="377.3,302.6 378.9,299.2 384.0,304.3 389.0,310.1 392.4,316.9 390.7,321.9 385.7,320.2 381.5,315.2 378.9,310.1 376.4,306.8" fill="#f2c9ca"/>
<polygon points="346.2,308.5 350.4,306.8 353.8,310.1 354.6,315.2 352.9,319.4 348.7,318.5 347.1,314.3 343.7,313.5" fill="#c85677"/>
<polygon points="352.9,319.4 357.1,318.5 361.3,319.4 363.9,323.6 363.9,328.6 360.5,331.1 357.1,329.4 354.6,325.2" fill="#d993a8"/>
<polygon points="361.3,319.4 364.7,320.2 368.0,324.4 366.4,327.8 363.9,328.6 363.9,323.6" fill="#c85677"/>
<polygon points="329.4,311.8 335.3,315.2 340.4,316.0 343.7,313.5 347.1,314.3 348.7,318.5 351.3,321.1 348.7,326.1 345.4,329.4 341.2,335.3 337.8,331.1 335.3,326.1 335.3,321.1 332.8,316.0" fill="#f2c9ca"/>
<polygon points="323.6,303.4 330.3,302.6 337.0,305.1 343.7,306.8 346.2,308.5 343.7,313.5 340.4,316.0 335.3,315.2 329.4,311.8 325.2,308.5" fill="#f2c9ca"/>
<polygon points="369.7,340.4 373.9,338.7 377.3,342.0 375.6,346.2 371.4,345.4" fill="#f2c9ca"/>
<polygon points="341.8,340.0 345.2,340.8 346.9,345.9 345.2,350.1 343.5,350.1 344.3,345.0" fill="#f2c9ca"/>
<polygon points="369.5,340.0 376.2,340.0 377.1,344.2 372.9,345.9 369.5,343.4" fill="#f2c9ca"/>
<polyline points="120.8,97.0 125.9,95.3 130.1,97.8 132.6,102.0 130.1,104.5" fill="none"/>
<polyline points="106.5,135.2 110.7,136.8 114.1,135.2 117.4,131.8 119.1,131.0" fill="none"/>
<polyline points="117.6,131.1 113.4,133.6 111.8,138.6" fill="none"/>
<polyline points="144.3,75.2 144.3,81.0 142.7,82.7" fill="none"/>
<polyline points="110.7,62.1 114.1,66.8 119.1,75.2 117.4,81.9" fill="none"/>
<polyline points="119.1,75.2 125.8,73.5 128.4,81.0" fill="none"/>
<polyline points="125.8,73.5 127.5,66.8 125.8,62.6" fill="none"/>
<polyline points="126.7,62.6 128.4,68.5 126.7,73.5 132.6,76.8" fill="none"/>
<polyline points="65.4,58.1 60.4,61.8 57.8,66.8 57.0,71.8 51.1,81.0" fill="none"/>
<polyline points="47.3,55.9 49.4,61.8 46.9,66.8 51.1,70.1 57.0,71.8" fill="none"/>
<polyline points="43.6,66.8 46.9,66.8" fill="none"/>
<polyline points="41.0,75.2 46.1,75.2 51.1,70.1" fill="none"/>
<polyline points="53.6,57.0 52.8,62.6 49.4,61.8" fill="none"/>
<polyline points="25.1,94.5 27.6,100.3 31.8,95.3" fill="none"/>
<polyline points="27.6,100.3 26.8,106.2 21.8,107.1" fill="none"/>
<polyline points="26.8,106.2 32.7,107.9 36.9,103.7 35.2,98.7 36.9,92.0" fill="none"/>
<polyline points="36.9,103.7 41.9,102.0 42.7,96.2 42.7,89.4" fill="none"/>
<polyline points="41.9,102.0 46.1,106.2 52.0,100.3" fill="none"/>
<polyline points="32.7,107.9 33.5,113.8 28.5,115.5 22.6,117.1" fill="none"/>
<polyline points="33.5,113.8 39.4,112.9 46.1,106.2" fill="none"/>
<polyline points="39.4,112.9 40.2,118.0 35.2,113.4 28.5,116.7" fill="none"/>
<polyline points="46.1,106.2 50.3,110.4 54.5,112.1" fill="none"/>
<polyline points="50.3,110.4 47.8,116.3 40.2,118.0" fill="none"/>
<polyline points="47.8,116.3 51.1,115.0" fill="none"/>
<polyline points="35.2,113.4 41.9,115.9 47.8,113.4" fill="none"/>
<polyline points="41.9,115.9 41.0,121.8 35.2,126.8" fill="none"/>
<polyline points="41.0,121.8 47.8,122.6 54.5,120.1" fill="none"/>
<polyline points="47.8,122.6 46.1,128.5 36.0,131.0" fill="none"/>
<polyline points="46.1,128.5 52.0,131.0 57.8,126.8" fill="none"/>
<polyline points="52.0,131.0 54.5,134.3" fill="none"/>
<polyline points="32.7,135.2 40.2,135.2 46.1,128.5" fill="none"/>
<polyline points="40.2,135.2 41.9,140.2 38.5,142.7" fill="none"/>
<polyline points="41.9,140.2 51.1,137.7" fill="none"/>
<polyline points="41.9,140.2 46.1,148.6" fill="none"/>
<polyline points="49.4,151.1 52.0,154.5 51.1,156.2" fill="none"/>
<polyline points="57.8,156.2 55.3,162.0 49.4,160.3" fill="none"/>
<polyline points="55.3,162.0 59.5,167.1 65.4,162.9" fill="none"/>
<polyline points="59.5,167.1 53.6,170.4 47.8,168.7" fill="none"/>
<polyline points="59.5,167.1 62.0,172.9 58.5,174.3" fill="none"/>
<polyline points="53.6,170.4 55.3,178.0" fill="none"/>
<polyline points="62.0,172.9 68.7,172.1 72.1,163.7" fill="none"/>
<polyline points="68.7,172.1 70.4,177.1 67.7,177.7" fill="none"/>
<polyline points="76.3,160.3 76.3,163.7 80.5,168.7" fill="none"/>
<polyline points="63.5,162.6 60.1,165.9 55.9,166.8 50.1,171.0" fill="none"/>
<polyline points="60.1,165.9 62.7,171.8 58.5,174.3" fill="none"/>
<polyline points="62.7,171.8 67.7,170.1 73.6,164.3" fill="none"/>
<polyline points="67.7,170.1 71.9,173.5 76.1,171.0" fill="none"/>
<polyline points="71.9,173.5 71.9,180.2" fill="none"/>
<polyline points="78.6,175.2 78.6,182.7" fill="none"/>
<polyline points="76.1,155.0 82.0,152.5 88.7,155.0 95.4,156.7 100.4,160.1" fill="none"/>
<polyline points="72.1,143.6 74.6,144.4" fill="none"/>
<polyline points="77.1,152.0 77.1,153.6" fill="none"/>
<polyline points="81.3,148.6 87.2,150.3 90.6,142.7" fill="none"/>
<polyline points="87.2,150.3 88.9,156.2 83.8,160.3 77.1,153.6" fill="none"/>
<polyline points="88.9,156.2 95.6,155.3 97.3,149.4 93.9,145.2 97.3,140.2" fill="none"/>
<polyline points="97.3,149.4 103.2,147.8 105.7,144.4" fill="none"/>
<polyline points="103.2,147.8 104.0,153.6" fill="none"/>
<polyline points="95.6,155.3 97.3,160.3 101.5,159.5" fill="none"/>
<polyline points="83.8,160.3 85.5,165.4 95.4,156.7" fill="none"/>
<polyline points="97.3,160.3 93.9,164.6 85.5,165.4" fill="none"/>
<polyline points="106.5,141.9 104.0,137.7" fill="none"/>
<polyline points="129.4,132.7 135.2,137.8 142.0,142.0 148.7,148.7 152.0,150.3" fill="none"/>
<polyline points="211.8,208.1 215.7,207.1" fill="none"/>
<polyline points="208.8,209.1 210.8,212.0" fill="none"/>
<polyline points="229.9,192.0 232.3,191.0 233.8,193.9 232.8,196.8 230.3,196.8 229.9,192.0" fill="none"/>
<polyline points="347.0,288.7 348.7,294.6 354.6,295.4" fill="none"/>
<polyline points="348.7,294.6 345.3,297.1" fill="none"/>
<polyline points="378.9,310.1 384.0,309.3 389.0,310.1" fill="none"/>
<polyline points="330.3,302.6 332.8,308.5 335.3,315.2" fill="none"/>
<polyline points="337.0,305.1 338.7,311.0 340.4,316.0" fill="none"/>
</g>
<polygon points="41.9,81.0 41.0,75.2 43.6,66.8 46.1,60.1 47.3,55.9 53.6,57.0 65.4,58.1 70.4,60.4 82.2,61.4 93.9,60.9 98.1,59.2 101.5,59.7 110.7,62.1 119.1,62.6 126.7,62.6 131.8,60.9 138.5,59.2 145.2,59.2 150.2,61.8 155.2,65.9 158.6,70.1 160.3,76.8 159.4,83.6 156.1,87.8 150.2,92.0 145.2,96.2 140.1,99.5 135.1,102.0 130.1,104.5 126.7,108.7 125.0,113.8 125.2,110.1 125.2,116.8 126.8,123.5 129.4,129.4 135.2,133.6 142.0,137.8 148.7,142.0 153.7,145.3 157.1,148.7 163.8,150.3 170.5,153.7 177.2,157.1 183.9,162.1 190.6,166.3 195.0,169.2 201.8,172.6 208.5,175.9 215.2,178.5 221.9,180.1 228.6,182.7 235.3,186.8 242.0,190.2 248.7,193.6 255.4,198.6 262.2,203.6 268.9,207.8 275.6,213.7 282.3,218.7 282.2,220.0 287.3,224.2 291.5,229.3 297.3,232.6 304.1,236.0 310.8,239.3 316.8,243.4 323.5,247.6 330.2,250.9 336.9,253.4 342.0,255.9 347.0,258.5 350.4,263.5 351.2,268.5 349.5,272.7 353.7,277.8 358.7,281.1 363.8,283.6 368.8,287.0 373.9,292.0 377.2,297.1 375.6,293.4 378.9,299.2 384.0,304.3 389.0,310.1 392.4,316.9 394.9,323.6 397.4,330.3 399.9,336.1 400.8,342.0 400.6,341.7 396.4,346.7 392.2,351.8 388.8,356.8 387.1,363.5 386.3,370.2 385.4,376.1 383.8,382.0 381.3,384.0 377.9,383.6 373.7,380.3 368.7,377.8 362.0,374.4 356.1,370.2 351.1,365.2 346.9,360.1 344.3,355.1 343.7,355.4 342.0,350.4 343.7,345.4 343.7,339.5 341.2,335.3 337.8,331.1 335.3,326.1 335.3,321.1 332.8,316.0 329.4,311.8 324.1,309.5 317.4,307.0 310.7,306.1 304.0,307.0 297.3,307.0 290.6,306.1 287.2,304.5 282.2,302.0 277.1,299.4 272.1,296.1 268.7,293.6 265.4,291.9 260.4,290.2 257.0,287.7 259.5,285.2 257.8,281.0 256.1,276.8 252.8,274.3 250.3,270.1 245.2,271.8 238.5,273.4 231.8,276.8 225.1,282.7 220.1,287.7 213.4,282.1 206.7,277.1 203.4,272.1 205.0,263.7 206.7,257.0 205.0,250.2 205.7,255.4 204.8,248.7 205.7,243.7 204.0,240.3 200.6,237.0 195.6,235.3 188.9,236.2 185.5,237.0 182.2,234.5 177.1,237.8 172.9,240.3 168.7,235.3 163.7,229.4 158.7,223.6 154.5,217.7 153.6,213.5 152.0,208.5 148.6,207.6 142.7,210.1 137.7,205.1 131.8,202.6 127.6,200.1 128.4,199.6 133.4,197.1 136.8,193.7 134.3,189.5 130.9,186.2 129.2,182.0 125.0,178.6 120.0,176.1 118.9,175.2 113.8,175.2 111.3,178.5 107.1,181.1 100.4,180.2 97.1,178.5 90.3,177.7 84.5,178.5 82.0,181.1 78.6,182.7 71.9,180.2 67.7,177.7 62.7,177.7 58.5,174.3 55.9,176.0 52.6,175.2 50.1,171.0 46.7,165.9 49.4,160.3 51.1,156.2 49.4,151.1 46.1,148.6 41.0,146.9 38.5,142.7 33.5,140.2 32.7,135.2 36.0,131.0 35.2,126.8 31.0,121.8 28.5,116.7 25.1,114.2 20.9,110.0 20.9,108.7 21.8,97.8 25.1,94.5 31.8,95.3 36.9,92.0 42.7,89.4 44.4,88.6" fill="none" stroke="#111" stroke-width="0.75" stroke-linejoin="round"/>
</g>

<!-- pie -->
<g id="pie">
<circle cx="301.7" cy="97" r="70.5" fill="#c2506e"/>
<path d="M301.7,97 L301.7,26.5 A70.5,70.5 0 1 1 295.1,167.2 Z" fill="#582e38"/>
<path d="M301.7,26.5 L301.7,97 L295.1,167.2" fill="none" stroke="#d98a9c" stroke-width="0.5"/>
<text class="b" x="254.1" y="94.1" font-size="21" fill="#fff" stroke="#fff" stroke-width="0.5" textLength="41.8" lengthAdjust="spacingAndGlyphs">49%</text>
<text class="b" x="311" y="94.1" font-size="21" fill="#fff" stroke="#fff" stroke-width="0.5" textLength="36.7" lengthAdjust="spacingAndGlyphs">51%</text>
<text x="241.4" y="109.9" font-size="14.5" fill="#fff" textLength="54.1" lengthAdjust="spacingAndGlyphs">Femmine</text>
<text x="311.4" y="109.9" font-size="14.5" fill="#fff" textLength="40" lengthAdjust="spacingAndGlyphs">Maschi</text>
</g>

<!-- table -->
<g id="table">
<text class="hd" x="542.4" y="75.8" textLength="37.2" lengthAdjust="spacingAndGlyphs">Numero</text>
<text class="hd" x="542" y="88.3" textLength="84.4" lengthAdjust="spacingAndGlyphs">di casi confermati</text>
<text class="hd" x="542.4" y="100.8" textLength="62" lengthAdjust="spacingAndGlyphs">per provincia</text>
<text class="hd" x="633.8" y="75.8" textLength="45" lengthAdjust="spacingAndGlyphs">Incidenza</text>
<text class="hd" x="632.9" y="88.3" textLength="61.8" lengthAdjust="spacingAndGlyphs">cumulata per</text>
<text class="hd" x="633.6" y="100.8" textLength="71.2" lengthAdjust="spacingAndGlyphs">10.000 abitanti</text>
<rect x="425" y="108.2" width="249.5" height="0.9" fill="#a9abad"/>

<text class="rl" x="427.1" y="129.5" textLength="25.7" lengthAdjust="spacingAndGlyphs">Bari</text>
<text class="rl" x="427.1" y="155.4" textLength="49.1" lengthAdjust="spacingAndGlyphs">Brindisi</text>
<text class="rl" x="427.1" y="181.3" textLength="25.7" lengthAdjust="spacingAndGlyphs">BAT</text>
<text class="rl" x="427.1" y="207.1" textLength="43.8" lengthAdjust="spacingAndGlyphs">Foggia</text>
<text class="rl" x="427.1" y="233" textLength="39.5" lengthAdjust="spacingAndGlyphs">Lecce</text>
<text class="rl" x="427.1" y="258.8" textLength="50.9" lengthAdjust="spacingAndGlyphs">Taranto</text>
<text class="rl" x="427.1" y="284.7" textLength="87.3" lengthAdjust="spacingAndGlyphs">Fuori regione</text>
<text class="rl" x="427.1" y="310.4" textLength="91.9" lengthAdjust="spacingAndGlyphs">Non attribuito</text>
<text class="rl b" x="427.1" y="336.2" style="fill:#111;stroke:#111" textLength="42" lengthAdjust="spacingAndGlyphs">Totale</text>

<text class="num" x="542.4" y="130.2" textLength="29.7" lengthAdjust="spacingAndGlyphs">1.313</text>
<text class="num" x="542.1" y="156.1" textLength="22.7" lengthAdjust="spacingAndGlyphs">566</text>
<text class="num" x="542.1" y="182" textLength="22.7" lengthAdjust="spacingAndGlyphs">373</text>
<text class="num" x="542.1" y="207.8" textLength="34.3" lengthAdjust="spacingAndGlyphs">1.044</text>
<text class="num" x="542.1" y="233.7" textLength="22.7" lengthAdjust="spacingAndGlyphs">487</text>
<text class="num" x="542.1" y="259.5" textLength="22.7" lengthAdjust="spacingAndGlyphs">258</text>
<text class="num" x="542.4" y="285.4" textLength="15.6" lengthAdjust="spacingAndGlyphs">29</text>
<text class="num" x="542.4" y="311.1" textLength="7" lengthAdjust="spacingAndGlyphs">2</text>
<text class="num b" x="542.4" y="336.8" style="fill:#b03c5e;font-size:15.6px" textLength="37.2" lengthAdjust="spacingAndGlyphs">4.072</text>

<text class="num" x="633.1" y="128.8" textLength="26.2" lengthAdjust="spacingAndGlyphs">10,5</text>
<text class="num" x="633.4" y="154.7" textLength="25.8" lengthAdjust="spacingAndGlyphs">14,4</text>
<text class="num" x="633" y="180.6" textLength="19.5" lengthAdjust="spacingAndGlyphs">9,6</text>
<text class="num" x="633" y="206.4" textLength="26" lengthAdjust="spacingAndGlyphs">16,8</text>
<text class="num" x="633" y="232.3" textLength="17" lengthAdjust="spacingAndGlyphs">6,1</text>
<text class="num" x="633" y="258.1" textLength="19.5" lengthAdjust="spacingAndGlyphs">4,5</text>
<text class="num" x="633" y="284" >-</text>
<text class="num" x="633" y="309.7" >-</text>
<text class="num b" x="633.4" y="335.2" style="fill:#b03c5e;font-size:15.6px" textLength="23.5" lengthAdjust="spacingAndGlyphs">10,1</text>
<rect x="421.3" y="318.8" width="248.5" height="0.9" fill="#a9abad"/>
</g>

<!-- legend -->
<g id="legend" stroke="#777" stroke-width="0.8">
<rect x="45.2" y="301.5" width="25.4" height="12" rx="6" fill="#fbebe6"/>
<rect x="45.2" y="319.7" width="25.4" height="12" rx="6" fill="#f4c8c8"/>
<rect x="45.2" y="338.7" width="25.4" height="12" rx="6" fill="#d48fa3" stroke="#9a7a84"/>
<rect x="120.3" y="301.2" width="26" height="12" rx="6" fill="#c9587a" stroke="#b0506c"/>
<rect x="120.3" y="319.7" width="26" height="12" rx="6" fill="#c3275a" stroke="#a82850"/>
<rect x="120.3" y="338.2" width="26" height="12" rx="6" fill="#ffffff"/>
</g>
<g id="legendtext">
<text class="lg" x="79.3" y="310" textLength="11.8" lengthAdjust="spacingAndGlyphs">1-5</text>
<text class="lg" x="79.3" y="328.9" textLength="17.1" lengthAdjust="spacingAndGlyphs">6-10</text>
<text class="lg" x="79.3" y="347.5" textLength="20.7" lengthAdjust="spacingAndGlyphs">11-20</text>
<text class="lg" x="155" y="310" textLength="22.3" lengthAdjust="spacingAndGlyphs">21-50</text>
<text class="lg" x="155" y="328.7" textLength="15" lengthAdjust="spacingAndGlyphs">&gt; 51</text>
<text class="lg" x="155" y="346.6" textLength="31" lengthAdjust="spacingAndGlyphs">comuni</text>
<text class="lg" x="155" y="357.1" textLength="43.4" lengthAdjust="spacingAndGlyphs">senza casi</text>
</g>

<!-- logos -->
<g id="logos">

<g id="crest">
<path d="M31.3,385.2 L31,382.6 Q32.5,381 35,381.3 Q39.1,380.2 43.2,381.3 Q45.7,381 47.2,382.6 L46.9,385.2 Z" fill="#c9a233"/>
<path d="M32,385.2 Q39.1,383.6 46.2,385.2 L46,387.3 Q39.1,386 32.2,387.3 Z" fill="#9c7d28"/>
<path d="M32,383.6 Q39.1,382 46.2,383.6" stroke="#6b5a2a" stroke-width="0.5" fill="none"/>
<clipPath id="sh"><path d="M28.2,388.6 H50.2 V410 Q50.2,414.4 45,414.4 H33.4 Q28.2,414.4 28.2,410 Z"/></clipPath>
<g clip-path="url(#sh)">
<rect x="28" y="388" width="23" height="27" fill="#2f80c6"/>
<polygon points="49.9,406.9 43.6,412.6 34.8,412.6 28.5,406.9 28.5,398.7 34.8,393.0 43.6,393.0 49.9,398.7" fill="#d9262c"/>
<polygon points="46.5,405.7 42.2,409.9 36.2,409.9 31.9,405.7 31.9,399.9 36.2,395.7 42.2,395.7 46.5,399.9" fill="#f3efe8"/>
<rect x="28.2" y="388.6" width="22" height="4.5" fill="#e8c53c"/>
</g>
<g fill="#28457a"><circle cx="31" cy="390.9" r="0.8"/><circle cx="34.3" cy="390.9" r="0.8"/><circle cx="37.6" cy="390.9" r="0.8"/><circle cx="40.9" cy="390.9" r="0.8"/><circle cx="44.2" cy="390.9" r="0.8"/><circle cx="47.4" cy="390.9" r="0.8"/></g>
<ellipse cx="39.4" cy="401" rx="3.8" ry="3.4" fill="#86a88a"/>
<ellipse cx="38.6" cy="400.3" rx="1.9" ry="1.6" fill="#4f7f74"/>
<path d="M39.3,403 L39.3,408 M37.4,408.3 L41.2,408.3" stroke="#8a6b4a" stroke-width="0.9" fill="none"/>
<path d="M38.2,414.3 L40.2,414.3 L39.2,416 Z" fill="#d9262c"/>
</g>
<g id="tree"><g fill="#d2848c"><ellipse cx="143.4" cy="400.8" rx="2.3" ry="1.25" transform="rotate(-65 143.4 400.8)"/><ellipse cx="147.1" cy="405.1" rx="2.3" ry="1.25" transform="rotate(35 147.1 405.1)"/><ellipse cx="124.9" cy="394.2" rx="2.3" ry="1.25" transform="rotate(-65 124.9 394.2)"/><ellipse cx="153.4" cy="398.6" rx="2.3" ry="1.25" transform="rotate(50 153.4 398.6)"/><ellipse cx="138.6" cy="388.9" rx="2.3" ry="1.25" transform="rotate(-65 138.6 388.9)"/><ellipse cx="141.0" cy="396.8" rx="2.3" ry="1.25" transform="rotate(-65 141.0 396.8)"/><ellipse cx="132.7" cy="405.0" rx="2.3" ry="1.25" transform="rotate(50 132.7 405.0)"/><ellipse cx="147.9" cy="386.8" rx="2.3" ry="1.25" transform="rotate(20 147.9 386.8)"/><ellipse cx="143.3" cy="386.0" rx="2.3" ry="1.25" transform="rotate(20 143.3 386.0)"/><ellipse cx="130.5" cy="388.2" rx="2.3" ry="1.25" transform="rotate(50 130.5 388.2)"/><ellipse cx="151.9" cy="390.2" rx="2.3" ry="1.25" transform="rotate(-50 151.9 390.2)"/><ellipse cx="135.3" cy="387.0" rx="2.3" ry="1.25" transform="rotate(-35 135.3 387.0)"/><ellipse cx="133.4" cy="397.5" rx="2.3" ry="1.25" transform="rotate(-35 133.4 397.5)"/><ellipse cx="134.5" cy="390.4" rx="2.3" ry="1.25" transform="rotate(20 134.5 390.4)"/><ellipse cx="149.5" cy="394.5" rx="2.3" ry="1.25" transform="rotate(35 149.5 394.5)"/><ellipse cx="133.9" cy="394.5" rx="2.3" ry="1.25" transform="rotate(50 133.9 394.5)"/><ellipse cx="146.0" cy="384.4" rx="2.3" ry="1.25" transform="rotate(-20 146.0 384.4)"/><ellipse cx="130.1" cy="401.1" rx="2.3" ry="1.25" transform="rotate(-50 130.1 401.1)"/><ellipse cx="140.4" cy="401.6" rx="2.3" ry="1.25" transform="rotate(-65 140.4 401.6)"/><ellipse cx="126.8" cy="391.2" rx="2.3" ry="1.25" transform="rotate(50 126.8 391.2)"/><ellipse cx="143.1" cy="405.0" rx="2.3" ry="1.25" transform="rotate(-20 143.1 405.0)"/><ellipse cx="154.8" cy="395.8" rx="2.3" ry="1.25" transform="rotate(50 154.8 395.8)"/><ellipse cx="138.2" cy="393.1" rx="2.3" ry="1.25" transform="rotate(35 138.2 393.1)"/><ellipse cx="135.3" cy="401.9" rx="2.3" ry="1.25" transform="rotate(-35 135.3 401.9)"/><ellipse cx="148.2" cy="399.7" rx="2.3" ry="1.25" transform="rotate(-20 148.2 399.7)"/><ellipse cx="144.3" cy="396.9" rx="2.3" ry="1.25" transform="rotate(-35 144.3 396.9)"/><ellipse cx="144.8" cy="393.1" rx="2.3" ry="1.25" transform="rotate(50 144.8 393.1)"/><ellipse cx="137.8" cy="398.6" rx="2.3" ry="1.25" transform="rotate(20 137.8 398.6)"/><ellipse cx="135.7" cy="383.9" rx="2.3" ry="1.25" transform="rotate(35 135.7 383.9)"/><ellipse cx="141.0" cy="391.1" rx="2.3" ry="1.25" transform="rotate(35 141.0 391.1)"/><ellipse cx="127.4" cy="396.6" rx="2.3" ry="1.25" transform="rotate(-50 127.4 396.6)"/><ellipse cx="154.3" cy="392.1" rx="2.3" ry="1.25" transform="rotate(-35 154.3 392.1)"/><ellipse cx="147.7" cy="390.2" rx="2.3" ry="1.25" transform="rotate(-20 147.7 390.2)"/><ellipse cx="138.2" cy="405.0" rx="2.3" ry="1.25" transform="rotate(20 138.2 405.0)"/><ellipse cx="125.7" cy="399.7" rx="2.3" ry="1.25" transform="rotate(35 125.7 399.7)"/><ellipse cx="140.1" cy="386.2" rx="2.3" ry="1.25" transform="rotate(65 140.1 386.2)"/><ellipse cx="131.3" cy="391.9" rx="2.3" ry="1.25" transform="rotate(35 131.3 391.9)"/><ellipse cx="136.6" cy="395.8" rx="2.3" ry="1.25" transform="rotate(65 136.6 395.8)"/><ellipse cx="131.6" cy="385.0" rx="2.3" ry="1.25" transform="rotate(-50 131.6 385.0)"/><ellipse cx="147.7" cy="396.8" rx="2.3" ry="1.25" transform="rotate(-65 147.7 396.8)"/><ellipse cx="150.5" cy="397.8" rx="2.3" ry="1.25" transform="rotate(20 150.5 397.8)"/><ellipse cx="130.5" cy="395.4" rx="2.3" ry="1.25" transform="rotate(-35 130.5 395.4)"/><ellipse cx="139.4" cy="383.0" rx="2.3" ry="1.25" transform="rotate(-65 139.4 383.0)"/><ellipse cx="150.6" cy="403.2" rx="2.3" ry="1.25" transform="rotate(20 150.6 403.2)"/><ellipse cx="144.6" cy="388.8" rx="2.3" ry="1.25" transform="rotate(-65 144.6 388.8)"/><ellipse cx="151.2" cy="387.1" rx="2.3" ry="1.25" transform="rotate(-35 151.2 387.1)"/><ellipse cx="127.5" cy="402.4" rx="2.3" ry="1.25" transform="rotate(-50 127.5 402.4)"/><ellipse cx="127.5" cy="388.2" rx="2.3" ry="1.25" transform="rotate(65 127.5 388.2)"/><ellipse cx="146.2" cy="402.2" rx="2.3" ry="1.25" transform="rotate(35 146.2 402.2)"/><ellipse cx="140.6" cy="406.6" rx="2.3" ry="1.25" transform="rotate(65 140.6 406.6)"/><ellipse cx="135.3" cy="406.5" rx="2.3" ry="1.25" transform="rotate(-50 135.3 406.5)"/><ellipse cx="142.3" cy="383.2" rx="2.3" ry="1.25" transform="rotate(65 142.3 383.2)"/><ellipse cx="124.3" cy="397.0" rx="2.3" ry="1.25" transform="rotate(35 124.3 397.0)"/><path d="M138.2,398 L138.5,406 Q138.2,411.5 134.3,413.9 L145,413.9 Q141.3,411.5 141.1,406 L141.4,398 Z"/><path d="M139.6,404 L132,396 M139.6,403 L147,395.5 M139.6,400 L139.6,389" stroke="#d2848c" stroke-width="1.1" fill="none"/></g></g>

<g id="aress">
<rect x="276.9" y="380.3" width="35.3" height="34.6" fill="#b5232b"/>
<path d="M276.9,382.8 C287,383.2 300.5,388.4 312.2,398.3 L312.2,402.4 C300,393 287.5,387.6 276.9,386.2 Z" fill="#f4f1f1"/>
<path d="M282.4,380.3 L291.6,380.3 Q292.6,383.2 296,386.8 L289,384.4 Q285,382.6 282.4,380.3 Z" fill="#f4f1f1"/>
<text class="b" x="279.4" y="412.3" font-size="15.6" fill="#fbf6f6" textLength="25.2" lengthAdjust="spacingAndGlyphs">AReSS</text>
<g font-size="5.7" fill="#6e6e6e">
<text x="319.1" y="387.8" textLength="20.1" lengthAdjust="spacingAndGlyphs">Agenzia</text>
<text x="319.1" y="393.9" textLength="26.4" lengthAdjust="spacingAndGlyphs">Regionale</text>
<text x="319.1" y="399.8" textLength="31.5" lengthAdjust="spacingAndGlyphs">per la Salute</text>
<text x="319.1" y="405.7" textLength="30.8" lengthAdjust="spacingAndGlyphs">ed il Sociale</text>
<text class="b" x="319.1" y="411.8" fill="#b5232b" textLength="16.4" lengthAdjust="spacingAndGlyphs">Puglia</text>
</g>
</g>
<text class="b" x="57.1" y="399.9" font-size="10.6" fill="#2b2f3a" textLength="46.6" lengthAdjust="spacingAndGlyphs">REGIONE</text>
<text class="b" x="57.1" y="411.2" font-size="10.6" fill="#2b2f3a" textLength="38.4" lengthAdjust="spacingAndGlyphs">PUGLIA</text>
<text class="b" x="164.3" y="404.5" font-size="14.8" fill="#6b6b6b" textLength="44" lengthAdjust="spacingAndGlyphs">Puglia</text>
<text x="210.6" y="404.5" font-size="14.8" fill="#adadad" textLength="42.8" lengthAdjust="spacingAndGlyphs">Salute</text>
</g>

<!-- date -->
<text x="664.6" y="387.6" font-size="13.8" fill="#222" stroke="#222" stroke-width="0.35" text-anchor="end" textLength="85.6" lengthAdjust="spacingAndGlyphs">30 aprile 2020</text>
<text x="664.6" y="405.4" font-size="13.8" fill="#333" text-anchor="end" textLength="158.1" lengthAdjust="spacingAndGlyphs">Aggiornamento delle 16.30</text>
<text x="672" y="429.5" font-size="14" fill="#dfe1e4">Attiva Windows</text>
</svg>
</body>
</html>
